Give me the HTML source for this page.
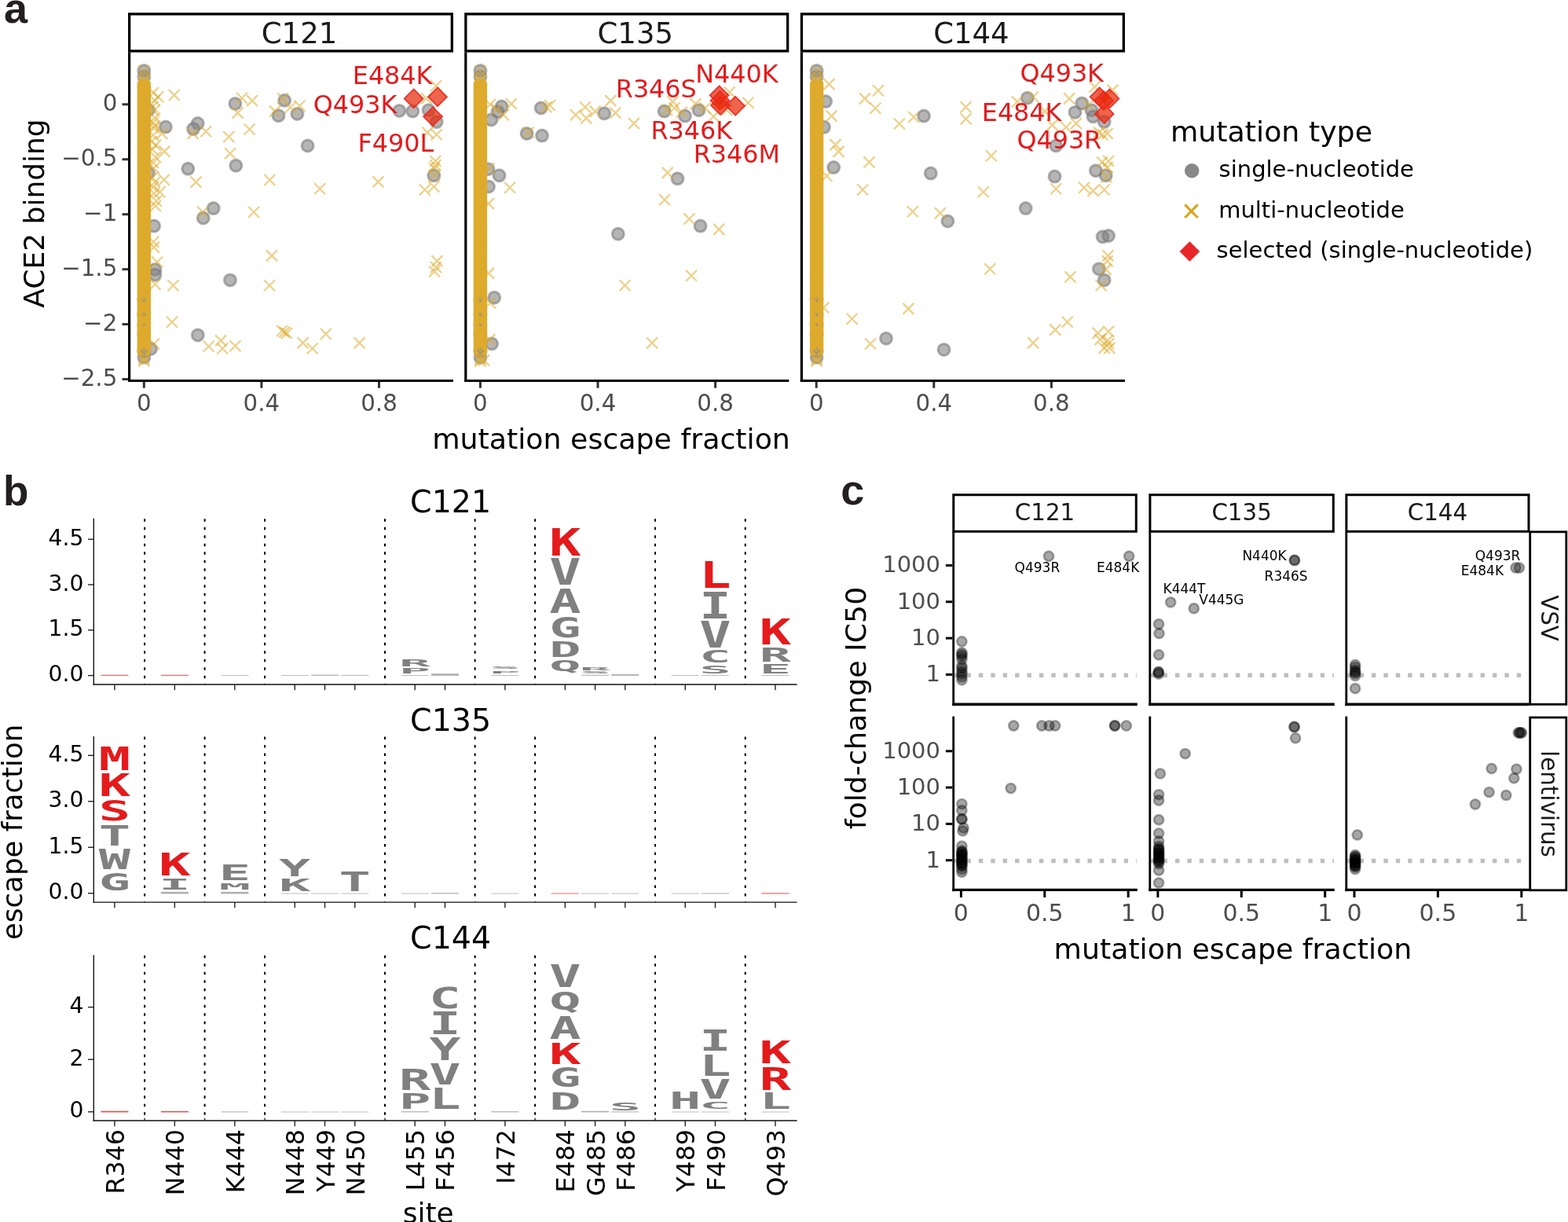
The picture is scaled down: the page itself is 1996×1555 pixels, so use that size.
<!DOCTYPE html>
<html><head><meta charset="utf-8"><title>figure</title>
<style>html,body{margin:0;padding:0;background:#fff;}svg{display:block;}</style></head>
<body><svg width="1996" height="1555" viewBox="0 0 1996 1555">
<rect width="1996" height="1555" fill="#fff"/>
<text x="5" y="28.7" font-size="54" fill="#231F20" text-anchor="start" font-family="'Liberation Sans', Arial, sans-serif" font-weight="bold">a</text>
<text x="4" y="643.4" font-size="53" fill="#231F20" text-anchor="start" font-family="'Liberation Sans', Arial, sans-serif" font-weight="bold">b</text>
<text x="1070.3" y="642.2" font-size="54" fill="#231F20" text-anchor="start" font-family="'Liberation Sans', Arial, sans-serif" font-weight="bold">c</text>
<rect x="164.65" y="17.85" width="410.7" height="47.1" fill="#fff" stroke="#000" stroke-width="3.3"/>
<line x1="164.6" y1="66.6" x2="164.6" y2="486" stroke="#000" stroke-width="3.2"/>
<line x1="163" y1="484.5" x2="577" y2="484.5" stroke="#000" stroke-width="3.2"/>
<line x1="183.3" y1="486" x2="183.3" y2="493.8" stroke="#333333" stroke-width="3"/>
<text x="183.3" y="522.9" font-size="29.3" fill="#4D4D4D" text-anchor="middle" font-family="'DejaVu Sans', 'Liberation Sans', sans-serif" font-weight="normal">0</text>
<line x1="332.9" y1="486" x2="332.9" y2="493.8" stroke="#333333" stroke-width="3"/>
<text x="332.9" y="522.9" font-size="29.3" fill="#4D4D4D" text-anchor="middle" font-family="'DejaVu Sans', 'Liberation Sans', sans-serif" font-weight="normal">0.4</text>
<line x1="482.5" y1="486" x2="482.5" y2="493.8" stroke="#333333" stroke-width="3"/>
<text x="482.5" y="522.9" font-size="29.3" fill="#4D4D4D" text-anchor="middle" font-family="'DejaVu Sans', 'Liberation Sans', sans-serif" font-weight="normal">0.8</text>
<text x="381" y="54.8" font-size="37" fill="#1A1A1A" text-anchor="middle" font-family="'DejaVu Sans', 'Liberation Sans', sans-serif" font-weight="normal">C121</text>
<rect x="592.85" y="17.85" width="409.8" height="47.1" fill="#fff" stroke="#000" stroke-width="3.3"/>
<line x1="592.8" y1="66.6" x2="592.8" y2="486" stroke="#000" stroke-width="3.2"/>
<line x1="591.2" y1="484.5" x2="1004.3" y2="484.5" stroke="#000" stroke-width="3.2"/>
<line x1="611.4" y1="486" x2="611.4" y2="493.8" stroke="#333333" stroke-width="3"/>
<text x="611.4" y="522.9" font-size="29.3" fill="#4D4D4D" text-anchor="middle" font-family="'DejaVu Sans', 'Liberation Sans', sans-serif" font-weight="normal">0</text>
<line x1="761" y1="486" x2="761" y2="493.8" stroke="#333333" stroke-width="3"/>
<text x="761" y="522.9" font-size="29.3" fill="#4D4D4D" text-anchor="middle" font-family="'DejaVu Sans', 'Liberation Sans', sans-serif" font-weight="normal">0.4</text>
<line x1="910.6" y1="486" x2="910.6" y2="493.8" stroke="#333333" stroke-width="3"/>
<text x="910.6" y="522.9" font-size="29.3" fill="#4D4D4D" text-anchor="middle" font-family="'DejaVu Sans', 'Liberation Sans', sans-serif" font-weight="normal">0.8</text>
<text x="808.75" y="54.8" font-size="37" fill="#1A1A1A" text-anchor="middle" font-family="'DejaVu Sans', 'Liberation Sans', sans-serif" font-weight="normal">C135</text>
<rect x="1020.45" y="17.85" width="409.9" height="47.1" fill="#fff" stroke="#000" stroke-width="3.3"/>
<line x1="1020.4" y1="66.6" x2="1020.4" y2="486" stroke="#000" stroke-width="3.2"/>
<line x1="1018.8" y1="484.5" x2="1432" y2="484.5" stroke="#000" stroke-width="3.2"/>
<line x1="1039.2" y1="486" x2="1039.2" y2="493.8" stroke="#333333" stroke-width="3"/>
<text x="1039.2" y="522.9" font-size="29.3" fill="#4D4D4D" text-anchor="middle" font-family="'DejaVu Sans', 'Liberation Sans', sans-serif" font-weight="normal">0</text>
<line x1="1188.8" y1="486" x2="1188.8" y2="493.8" stroke="#333333" stroke-width="3"/>
<text x="1188.8" y="522.9" font-size="29.3" fill="#4D4D4D" text-anchor="middle" font-family="'DejaVu Sans', 'Liberation Sans', sans-serif" font-weight="normal">0.4</text>
<line x1="1338.4" y1="486" x2="1338.4" y2="493.8" stroke="#333333" stroke-width="3"/>
<text x="1338.4" y="522.9" font-size="29.3" fill="#4D4D4D" text-anchor="middle" font-family="'DejaVu Sans', 'Liberation Sans', sans-serif" font-weight="normal">0.8</text>
<text x="1236.4" y="54.8" font-size="37" fill="#1A1A1A" text-anchor="middle" font-family="'DejaVu Sans', 'Liberation Sans', sans-serif" font-weight="normal">C144</text>
<line x1="155.5" y1="132.8" x2="163" y2="132.8" stroke="#333333" stroke-width="3"/>
<text x="149.3" y="141.4" font-size="29.3" fill="#4D4D4D" text-anchor="end" font-family="'DejaVu Sans', 'Liberation Sans', sans-serif" font-weight="normal">0</text>
<line x1="155.5" y1="202.75" x2="163" y2="202.75" stroke="#333333" stroke-width="3"/>
<text x="149.3" y="211.35" font-size="29.3" fill="#4D4D4D" text-anchor="end" font-family="'DejaVu Sans', 'Liberation Sans', sans-serif" font-weight="normal">−0.5</text>
<line x1="155.5" y1="272.7" x2="163" y2="272.7" stroke="#333333" stroke-width="3"/>
<text x="149.3" y="281.3" font-size="29.3" fill="#4D4D4D" text-anchor="end" font-family="'DejaVu Sans', 'Liberation Sans', sans-serif" font-weight="normal">−1</text>
<line x1="155.5" y1="342.65" x2="163" y2="342.65" stroke="#333333" stroke-width="3"/>
<text x="149.3" y="351.25" font-size="29.3" fill="#4D4D4D" text-anchor="end" font-family="'DejaVu Sans', 'Liberation Sans', sans-serif" font-weight="normal">−1.5</text>
<line x1="155.5" y1="412.6" x2="163" y2="412.6" stroke="#333333" stroke-width="3"/>
<text x="149.3" y="421.2" font-size="29.3" fill="#4D4D4D" text-anchor="end" font-family="'DejaVu Sans', 'Liberation Sans', sans-serif" font-weight="normal">−2</text>
<line x1="155.5" y1="482.55" x2="163" y2="482.55" stroke="#333333" stroke-width="3"/>
<text x="149.3" y="491.15" font-size="29.3" fill="#4D4D4D" text-anchor="end" font-family="'DejaVu Sans', 'Liberation Sans', sans-serif" font-weight="normal">−2.5</text>
<text x="56" y="391.7" font-size="36" fill="#000" text-anchor="start" font-family="'DejaVu Sans', 'Liberation Sans', sans-serif" font-weight="normal" transform="rotate(-90 56 391.7)">ACE2 binding</text>
<text x="550.2" y="571.2" font-size="36.3" fill="#000" text-anchor="start" font-family="'DejaVu Sans', 'Liberation Sans', sans-serif" font-weight="normal">mutation escape fraction</text>
<text x="1490" y="180" font-size="36.3" fill="#000" text-anchor="start" font-family="'DejaVu Sans', 'Liberation Sans', sans-serif" font-weight="normal">mutation type</text>
<circle cx="1517.2" cy="217.2" r="9.2" fill="#888888"/>
<path d="M1508.3 260.4 L1524.7 277 M1524.7 260.4 L1508.3 277" stroke="#DAA520" stroke-width="3.2" fill="none"/>
<polygon points="1514.4,307.2 1527.2,320 1514.4,332.8 1501.6,320" fill="#E8262A"/>
<text x="1551.6" y="225.2" font-size="29" fill="#000" text-anchor="start" font-family="'DejaVu Sans', 'Liberation Sans', sans-serif" font-weight="normal">single-nucleotide</text>
<text x="1551.2" y="277.4" font-size="29" fill="#000" text-anchor="start" font-family="'DejaVu Sans', 'Liberation Sans', sans-serif" font-weight="normal">multi-nucleotide</text>
<text x="1548.6" y="328.4" font-size="29" fill="#000" text-anchor="start" font-family="'DejaVu Sans', 'Liberation Sans', sans-serif" font-weight="normal">selected (single-nucleotide)</text>
<g fill="#808080" fill-opacity="0.58" stroke="#777777" stroke-opacity="0.55" stroke-width="3">
<circle cx="183.3" cy="90" r="7.5"/>
<circle cx="183.3" cy="97.7" r="7.5"/>
<circle cx="183.3" cy="380.8" r="7.5"/>
<circle cx="183.3" cy="400.1" r="7.5"/>
<circle cx="183.3" cy="413" r="7.5"/>
<circle cx="183.3" cy="425" r="7.5"/>
<circle cx="183.3" cy="447.1" r="7.5"/>
<circle cx="183.3" cy="454.8" r="7.5"/>
<circle cx="611.4" cy="90" r="7.5"/>
<circle cx="611.4" cy="97.7" r="7.5"/>
<circle cx="611.4" cy="380.8" r="7.5"/>
<circle cx="611.4" cy="400.1" r="7.5"/>
<circle cx="611.4" cy="413" r="7.5"/>
<circle cx="611.4" cy="425" r="7.5"/>
<circle cx="611.4" cy="447.1" r="7.5"/>
<circle cx="611.4" cy="454.8" r="7.5"/>
<circle cx="1039.6" cy="90" r="7.5"/>
<circle cx="1039.6" cy="97.7" r="7.5"/>
<circle cx="1039.6" cy="380.8" r="7.5"/>
<circle cx="1039.6" cy="400.1" r="7.5"/>
<circle cx="1039.6" cy="413" r="7.5"/>
<circle cx="1039.6" cy="425" r="7.5"/>
<circle cx="1039.6" cy="447.1" r="7.5"/>
<circle cx="1039.6" cy="454.8" r="7.5"/>
<circle cx="299.4" cy="131.9" r="7.5"/>
<circle cx="362.2" cy="127.8" r="7.5"/>
<circle cx="354.5" cy="147.2" r="7.5"/>
<circle cx="378.4" cy="145" r="7.5"/>
<circle cx="210.9" cy="161.6" r="7.5"/>
<circle cx="251.7" cy="157.1" r="7.5"/>
<circle cx="246" cy="164.1" r="7.5"/>
<circle cx="239.3" cy="214.8" r="7.5"/>
<circle cx="300.3" cy="210.7" r="7.5"/>
<circle cx="271.7" cy="265.1" r="7.5"/>
<circle cx="258.8" cy="277.5" r="7.5"/>
<circle cx="196.1" cy="287.6" r="7.5"/>
<circle cx="197.4" cy="342.9" r="7.5"/>
<circle cx="197.4" cy="349.7" r="7.5"/>
<circle cx="293" cy="356.4" r="7.5"/>
<circle cx="251.8" cy="426.4" r="7.5"/>
<circle cx="192" cy="444" r="7.5"/>
<circle cx="391.6" cy="185.5" r="7.5"/>
<circle cx="508.4" cy="140.9" r="7.5"/>
<circle cx="525.3" cy="141.6" r="7.5"/>
<circle cx="545.6" cy="140.2" r="7.5"/>
<circle cx="555.7" cy="155.1" r="7.5"/>
<circle cx="552.3" cy="223.3" r="7.5"/>
<circle cx="189" cy="140" r="7.5"/>
<circle cx="189" cy="220" r="7.5"/>
<circle cx="638.6" cy="135.5" r="7.5"/>
<circle cx="633.5" cy="142.2" r="7.5"/>
<circle cx="625.4" cy="152.4" r="7.5"/>
<circle cx="688.6" cy="137.5" r="7.5"/>
<circle cx="670.6" cy="169.9" r="7.5"/>
<circle cx="690" cy="172.6" r="7.5"/>
<circle cx="769.2" cy="144.3" r="7.5"/>
<circle cx="635.5" cy="223.3" r="7.5"/>
<circle cx="622" cy="237.5" r="7.5"/>
<circle cx="621.4" cy="215.2" r="7.5"/>
<circle cx="845.6" cy="141.6" r="7.5"/>
<circle cx="872" cy="147.6" r="7.5"/>
<circle cx="889.5" cy="140.2" r="7.5"/>
<circle cx="862.5" cy="227.3" r="7.5"/>
<circle cx="891.6" cy="287.6" r="7.5"/>
<circle cx="786.8" cy="297.7" r="7.5"/>
<circle cx="629.2" cy="378.7" r="7.5"/>
<circle cx="626.1" cy="437.5" r="7.5"/>
<circle cx="1051.1" cy="129.1" r="7.5"/>
<circle cx="1049" cy="161.8" r="7.5"/>
<circle cx="1061.2" cy="213.1" r="7.5"/>
<circle cx="1176" cy="147.6" r="7.5"/>
<circle cx="1184.8" cy="220.6" r="7.5"/>
<circle cx="1206.4" cy="281.5" r="7.5"/>
<circle cx="1307.8" cy="124.7" r="7.5"/>
<circle cx="1377.3" cy="131.4" r="7.5"/>
<circle cx="1368.5" cy="142.9" r="7.5"/>
<circle cx="1389.5" cy="140.2" r="7.5"/>
<circle cx="1391.5" cy="148.3" r="7.5"/>
<circle cx="1405.7" cy="155.1" r="7.5"/>
<circle cx="1344.2" cy="185.5" r="7.5"/>
<circle cx="1394.9" cy="217.2" r="7.5"/>
<circle cx="1407.7" cy="223.3" r="7.5"/>
<circle cx="1342.6" cy="224.6" r="7.5"/>
<circle cx="1305.7" cy="265.1" r="7.5"/>
<circle cx="1128" cy="430.7" r="7.5"/>
<circle cx="1201.6" cy="444.9" r="7.5"/>
<circle cx="1403.6" cy="301.3" r="7.5"/>
<circle cx="1411.1" cy="300" r="7.5"/>
<circle cx="1398.9" cy="342.2" r="7.5"/>
<circle cx="1405.7" cy="356.4" r="7.5"/>
</g>
<rect x="174.6" y="101.5" width="17.4" height="350.5" rx="5" fill="#DEAB2D"/>
<polygon points="183.3,376.3 187.8,380.8 183.3,385.3 178.8,380.8" fill="#8c8c8c" fill-opacity="0.75"/>
<polygon points="183.3,396.6 186.8,400.1 183.3,403.6 179.8,400.1" fill="#8c8c8c" fill-opacity="0.75"/>
<polygon points="183.3,442.1 188.3,447.1 183.3,452.1 178.3,447.1" fill="#8c8c8c" fill-opacity="0.75"/>
<polygon points="183.3,411 185.8,413.5 183.3,416 180.8,413.5" fill="#8c8c8c" fill-opacity="0.75"/>
<rect x="602.7" y="101.5" width="17.4" height="350.5" rx="5" fill="#DEAB2D"/>
<polygon points="611.4,376.3 615.9,380.8 611.4,385.3 606.9,380.8" fill="#8c8c8c" fill-opacity="0.75"/>
<polygon points="611.4,396.6 614.9,400.1 611.4,403.6 607.9,400.1" fill="#8c8c8c" fill-opacity="0.75"/>
<polygon points="611.4,442.1 616.4,447.1 611.4,452.1 606.4,447.1" fill="#8c8c8c" fill-opacity="0.75"/>
<polygon points="611.4,411 613.9,413.5 611.4,416 608.9,413.5" fill="#8c8c8c" fill-opacity="0.75"/>
<rect x="1030.9" y="101.5" width="17.4" height="350.5" rx="5" fill="#DEAB2D"/>
<polygon points="1039.6,376.3 1044.1,380.8 1039.6,385.3 1035.1,380.8" fill="#8c8c8c" fill-opacity="0.75"/>
<polygon points="1039.6,396.6 1043.1,400.1 1039.6,403.6 1036.1,400.1" fill="#8c8c8c" fill-opacity="0.75"/>
<polygon points="1039.6,442.1 1044.6,447.1 1039.6,452.1 1034.6,447.1" fill="#8c8c8c" fill-opacity="0.75"/>
<polygon points="1039.6,411 1042.1,413.5 1039.6,416 1037.1,413.5" fill="#8c8c8c" fill-opacity="0.75"/>
<g stroke="#DEAB2D" stroke-opacity="0.55" stroke-width="2.3" fill="none">
<path d="M176.3 83 l14 14 M190.3 83 l-14 14"/>
<path d="M176.3 90.7 l14 14 M190.3 90.7 l-14 14"/>
<path d="M176.3 95 l14 14 M190.3 95 l-14 14"/>
<path d="M176.3 98 l14 14 M190.3 98 l-14 14"/>
<path d="M176.3 101 l14 14 M190.3 101 l-14 14"/>
<path d="M176.3 104 l14 14 M190.3 104 l-14 14"/>
<path d="M176.3 107 l14 14 M190.3 107 l-14 14"/>
<path d="M176.3 110 l14 14 M190.3 110 l-14 14"/>
<path d="M176.3 113 l14 14 M190.3 113 l-14 14"/>
<path d="M176.3 116 l14 14 M190.3 116 l-14 14"/>
<path d="M176.3 119 l14 14 M190.3 119 l-14 14"/>
<path d="M176.3 122 l14 14 M190.3 122 l-14 14"/>
<path d="M176.3 125 l14 14 M190.3 125 l-14 14"/>
<path d="M176.3 128 l14 14 M190.3 128 l-14 14"/>
<path d="M176.3 131 l14 14 M190.3 131 l-14 14"/>
<path d="M176.3 134 l14 14 M190.3 134 l-14 14"/>
<path d="M176.3 137 l14 14 M190.3 137 l-14 14"/>
<path d="M176.3 140 l14 14 M190.3 140 l-14 14"/>
<path d="M176.3 143 l14 14 M190.3 143 l-14 14"/>
<path d="M176.3 146 l14 14 M190.3 146 l-14 14"/>
<path d="M176.3 149 l14 14 M190.3 149 l-14 14"/>
<path d="M176.3 152 l14 14 M190.3 152 l-14 14"/>
<path d="M176.3 155 l14 14 M190.3 155 l-14 14"/>
<path d="M176.3 158 l14 14 M190.3 158 l-14 14"/>
<path d="M176.3 161 l14 14 M190.3 161 l-14 14"/>
<path d="M176.3 164 l14 14 M190.3 164 l-14 14"/>
<path d="M176.3 167 l14 14 M190.3 167 l-14 14"/>
<path d="M176.3 170 l14 14 M190.3 170 l-14 14"/>
<path d="M176.3 173 l14 14 M190.3 173 l-14 14"/>
<path d="M176.3 176 l14 14 M190.3 176 l-14 14"/>
<path d="M176.3 179 l14 14 M190.3 179 l-14 14"/>
<path d="M176.3 182 l14 14 M190.3 182 l-14 14"/>
<path d="M176.3 185 l14 14 M190.3 185 l-14 14"/>
<path d="M176.3 188 l14 14 M190.3 188 l-14 14"/>
<path d="M176.3 191 l14 14 M190.3 191 l-14 14"/>
<path d="M176.3 194 l14 14 M190.3 194 l-14 14"/>
<path d="M176.3 197 l14 14 M190.3 197 l-14 14"/>
<path d="M176.3 200 l14 14 M190.3 200 l-14 14"/>
<path d="M176.3 203 l14 14 M190.3 203 l-14 14"/>
<path d="M176.3 206 l14 14 M190.3 206 l-14 14"/>
<path d="M176.3 209 l14 14 M190.3 209 l-14 14"/>
<path d="M176.3 212 l14 14 M190.3 212 l-14 14"/>
<path d="M176.3 215 l14 14 M190.3 215 l-14 14"/>
<path d="M176.3 218 l14 14 M190.3 218 l-14 14"/>
<path d="M176.3 221 l14 14 M190.3 221 l-14 14"/>
<path d="M176.3 224 l14 14 M190.3 224 l-14 14"/>
<path d="M176.3 227 l14 14 M190.3 227 l-14 14"/>
<path d="M176.3 230 l14 14 M190.3 230 l-14 14"/>
<path d="M176.3 233 l14 14 M190.3 233 l-14 14"/>
<path d="M176.3 236 l14 14 M190.3 236 l-14 14"/>
<path d="M176.3 239 l14 14 M190.3 239 l-14 14"/>
<path d="M176.3 242 l14 14 M190.3 242 l-14 14"/>
<path d="M176.3 245 l14 14 M190.3 245 l-14 14"/>
<path d="M176.3 248 l14 14 M190.3 248 l-14 14"/>
<path d="M176.3 251 l14 14 M190.3 251 l-14 14"/>
<path d="M176.3 254 l14 14 M190.3 254 l-14 14"/>
<path d="M176.3 257 l14 14 M190.3 257 l-14 14"/>
<path d="M176.3 260 l14 14 M190.3 260 l-14 14"/>
<path d="M176.3 263 l14 14 M190.3 263 l-14 14"/>
<path d="M176.3 266 l14 14 M190.3 266 l-14 14"/>
<path d="M176.3 269 l14 14 M190.3 269 l-14 14"/>
<path d="M176.3 272 l14 14 M190.3 272 l-14 14"/>
<path d="M176.3 275 l14 14 M190.3 275 l-14 14"/>
<path d="M176.3 278 l14 14 M190.3 278 l-14 14"/>
<path d="M176.3 281 l14 14 M190.3 281 l-14 14"/>
<path d="M176.3 284 l14 14 M190.3 284 l-14 14"/>
<path d="M176.3 287 l14 14 M190.3 287 l-14 14"/>
<path d="M176.3 290 l14 14 M190.3 290 l-14 14"/>
<path d="M176.3 293 l14 14 M190.3 293 l-14 14"/>
<path d="M176.3 296 l14 14 M190.3 296 l-14 14"/>
<path d="M176.3 299 l14 14 M190.3 299 l-14 14"/>
<path d="M176.3 302 l14 14 M190.3 302 l-14 14"/>
<path d="M176.3 305 l14 14 M190.3 305 l-14 14"/>
<path d="M176.3 308 l14 14 M190.3 308 l-14 14"/>
<path d="M176.3 311 l14 14 M190.3 311 l-14 14"/>
<path d="M176.3 314 l14 14 M190.3 314 l-14 14"/>
<path d="M176.3 317 l14 14 M190.3 317 l-14 14"/>
<path d="M176.3 320 l14 14 M190.3 320 l-14 14"/>
<path d="M176.3 323 l14 14 M190.3 323 l-14 14"/>
<path d="M176.3 326 l14 14 M190.3 326 l-14 14"/>
<path d="M176.3 329 l14 14 M190.3 329 l-14 14"/>
<path d="M176.3 332 l14 14 M190.3 332 l-14 14"/>
<path d="M176.3 335 l14 14 M190.3 335 l-14 14"/>
<path d="M176.3 338 l14 14 M190.3 338 l-14 14"/>
<path d="M176.3 341 l14 14 M190.3 341 l-14 14"/>
<path d="M176.3 344 l14 14 M190.3 344 l-14 14"/>
<path d="M176.3 347 l14 14 M190.3 347 l-14 14"/>
<path d="M176.3 350 l14 14 M190.3 350 l-14 14"/>
<path d="M176.3 353 l14 14 M190.3 353 l-14 14"/>
<path d="M176.3 356 l14 14 M190.3 356 l-14 14"/>
<path d="M176.3 359 l14 14 M190.3 359 l-14 14"/>
<path d="M176.3 362 l14 14 M190.3 362 l-14 14"/>
<path d="M176.3 365 l14 14 M190.3 365 l-14 14"/>
<path d="M176.3 368 l14 14 M190.3 368 l-14 14"/>
<path d="M176.3 371 l14 14 M190.3 371 l-14 14"/>
<path d="M176.3 373 l14 14 M190.3 373 l-14 14"/>
<path d="M176.3 379 l14 14 M190.3 379 l-14 14"/>
<path d="M176.3 385 l14 14 M190.3 385 l-14 14"/>
<path d="M176.3 391 l14 14 M190.3 391 l-14 14"/>
<path d="M176.3 397 l14 14 M190.3 397 l-14 14"/>
<path d="M176.3 403 l14 14 M190.3 403 l-14 14"/>
<path d="M176.3 409 l14 14 M190.3 409 l-14 14"/>
<path d="M176.3 415 l14 14 M190.3 415 l-14 14"/>
<path d="M176.3 421 l14 14 M190.3 421 l-14 14"/>
<path d="M176.3 427 l14 14 M190.3 427 l-14 14"/>
<path d="M176.3 433 l14 14 M190.3 433 l-14 14"/>
<path d="M176.3 439 l14 14 M190.3 439 l-14 14"/>
<path d="M176.3 447.5 l14 14 M190.3 447.5 l-14 14"/>
<path d="M176.3 450.5 l14 14 M190.3 450.5 l-14 14"/>
<path d="M176.3 452.5 l14 14 M190.3 452.5 l-14 14"/>
<path d="M604.4 83 l14 14 M618.4 83 l-14 14"/>
<path d="M604.4 90.7 l14 14 M618.4 90.7 l-14 14"/>
<path d="M604.4 95 l14 14 M618.4 95 l-14 14"/>
<path d="M604.4 98 l14 14 M618.4 98 l-14 14"/>
<path d="M604.4 101 l14 14 M618.4 101 l-14 14"/>
<path d="M604.4 104 l14 14 M618.4 104 l-14 14"/>
<path d="M604.4 107 l14 14 M618.4 107 l-14 14"/>
<path d="M604.4 110 l14 14 M618.4 110 l-14 14"/>
<path d="M604.4 113 l14 14 M618.4 113 l-14 14"/>
<path d="M604.4 116 l14 14 M618.4 116 l-14 14"/>
<path d="M604.4 119 l14 14 M618.4 119 l-14 14"/>
<path d="M604.4 122 l14 14 M618.4 122 l-14 14"/>
<path d="M604.4 125 l14 14 M618.4 125 l-14 14"/>
<path d="M604.4 128 l14 14 M618.4 128 l-14 14"/>
<path d="M604.4 131 l14 14 M618.4 131 l-14 14"/>
<path d="M604.4 134 l14 14 M618.4 134 l-14 14"/>
<path d="M604.4 137 l14 14 M618.4 137 l-14 14"/>
<path d="M604.4 140 l14 14 M618.4 140 l-14 14"/>
<path d="M604.4 143 l14 14 M618.4 143 l-14 14"/>
<path d="M604.4 146 l14 14 M618.4 146 l-14 14"/>
<path d="M604.4 149 l14 14 M618.4 149 l-14 14"/>
<path d="M604.4 152 l14 14 M618.4 152 l-14 14"/>
<path d="M604.4 155 l14 14 M618.4 155 l-14 14"/>
<path d="M604.4 158 l14 14 M618.4 158 l-14 14"/>
<path d="M604.4 161 l14 14 M618.4 161 l-14 14"/>
<path d="M604.4 164 l14 14 M618.4 164 l-14 14"/>
<path d="M604.4 167 l14 14 M618.4 167 l-14 14"/>
<path d="M604.4 170 l14 14 M618.4 170 l-14 14"/>
<path d="M604.4 173 l14 14 M618.4 173 l-14 14"/>
<path d="M604.4 176 l14 14 M618.4 176 l-14 14"/>
<path d="M604.4 179 l14 14 M618.4 179 l-14 14"/>
<path d="M604.4 182 l14 14 M618.4 182 l-14 14"/>
<path d="M604.4 185 l14 14 M618.4 185 l-14 14"/>
<path d="M604.4 188 l14 14 M618.4 188 l-14 14"/>
<path d="M604.4 191 l14 14 M618.4 191 l-14 14"/>
<path d="M604.4 194 l14 14 M618.4 194 l-14 14"/>
<path d="M604.4 197 l14 14 M618.4 197 l-14 14"/>
<path d="M604.4 200 l14 14 M618.4 200 l-14 14"/>
<path d="M604.4 203 l14 14 M618.4 203 l-14 14"/>
<path d="M604.4 206 l14 14 M618.4 206 l-14 14"/>
<path d="M604.4 209 l14 14 M618.4 209 l-14 14"/>
<path d="M604.4 212 l14 14 M618.4 212 l-14 14"/>
<path d="M604.4 215 l14 14 M618.4 215 l-14 14"/>
<path d="M604.4 218 l14 14 M618.4 218 l-14 14"/>
<path d="M604.4 221 l14 14 M618.4 221 l-14 14"/>
<path d="M604.4 224 l14 14 M618.4 224 l-14 14"/>
<path d="M604.4 227 l14 14 M618.4 227 l-14 14"/>
<path d="M604.4 230 l14 14 M618.4 230 l-14 14"/>
<path d="M604.4 233 l14 14 M618.4 233 l-14 14"/>
<path d="M604.4 236 l14 14 M618.4 236 l-14 14"/>
<path d="M604.4 239 l14 14 M618.4 239 l-14 14"/>
<path d="M604.4 242 l14 14 M618.4 242 l-14 14"/>
<path d="M604.4 245 l14 14 M618.4 245 l-14 14"/>
<path d="M604.4 248 l14 14 M618.4 248 l-14 14"/>
<path d="M604.4 251 l14 14 M618.4 251 l-14 14"/>
<path d="M604.4 254 l14 14 M618.4 254 l-14 14"/>
<path d="M604.4 257 l14 14 M618.4 257 l-14 14"/>
<path d="M604.4 260 l14 14 M618.4 260 l-14 14"/>
<path d="M604.4 263 l14 14 M618.4 263 l-14 14"/>
<path d="M604.4 266 l14 14 M618.4 266 l-14 14"/>
<path d="M604.4 269 l14 14 M618.4 269 l-14 14"/>
<path d="M604.4 272 l14 14 M618.4 272 l-14 14"/>
<path d="M604.4 275 l14 14 M618.4 275 l-14 14"/>
<path d="M604.4 278 l14 14 M618.4 278 l-14 14"/>
<path d="M604.4 281 l14 14 M618.4 281 l-14 14"/>
<path d="M604.4 284 l14 14 M618.4 284 l-14 14"/>
<path d="M604.4 287 l14 14 M618.4 287 l-14 14"/>
<path d="M604.4 290 l14 14 M618.4 290 l-14 14"/>
<path d="M604.4 293 l14 14 M618.4 293 l-14 14"/>
<path d="M604.4 296 l14 14 M618.4 296 l-14 14"/>
<path d="M604.4 299 l14 14 M618.4 299 l-14 14"/>
<path d="M604.4 302 l14 14 M618.4 302 l-14 14"/>
<path d="M604.4 305 l14 14 M618.4 305 l-14 14"/>
<path d="M604.4 308 l14 14 M618.4 308 l-14 14"/>
<path d="M604.4 311 l14 14 M618.4 311 l-14 14"/>
<path d="M604.4 314 l14 14 M618.4 314 l-14 14"/>
<path d="M604.4 317 l14 14 M618.4 317 l-14 14"/>
<path d="M604.4 320 l14 14 M618.4 320 l-14 14"/>
<path d="M604.4 323 l14 14 M618.4 323 l-14 14"/>
<path d="M604.4 326 l14 14 M618.4 326 l-14 14"/>
<path d="M604.4 329 l14 14 M618.4 329 l-14 14"/>
<path d="M604.4 332 l14 14 M618.4 332 l-14 14"/>
<path d="M604.4 335 l14 14 M618.4 335 l-14 14"/>
<path d="M604.4 338 l14 14 M618.4 338 l-14 14"/>
<path d="M604.4 341 l14 14 M618.4 341 l-14 14"/>
<path d="M604.4 344 l14 14 M618.4 344 l-14 14"/>
<path d="M604.4 347 l14 14 M618.4 347 l-14 14"/>
<path d="M604.4 350 l14 14 M618.4 350 l-14 14"/>
<path d="M604.4 353 l14 14 M618.4 353 l-14 14"/>
<path d="M604.4 356 l14 14 M618.4 356 l-14 14"/>
<path d="M604.4 359 l14 14 M618.4 359 l-14 14"/>
<path d="M604.4 362 l14 14 M618.4 362 l-14 14"/>
<path d="M604.4 365 l14 14 M618.4 365 l-14 14"/>
<path d="M604.4 368 l14 14 M618.4 368 l-14 14"/>
<path d="M604.4 371 l14 14 M618.4 371 l-14 14"/>
<path d="M604.4 373 l14 14 M618.4 373 l-14 14"/>
<path d="M604.4 379 l14 14 M618.4 379 l-14 14"/>
<path d="M604.4 385 l14 14 M618.4 385 l-14 14"/>
<path d="M604.4 391 l14 14 M618.4 391 l-14 14"/>
<path d="M604.4 397 l14 14 M618.4 397 l-14 14"/>
<path d="M604.4 403 l14 14 M618.4 403 l-14 14"/>
<path d="M604.4 409 l14 14 M618.4 409 l-14 14"/>
<path d="M604.4 415 l14 14 M618.4 415 l-14 14"/>
<path d="M604.4 421 l14 14 M618.4 421 l-14 14"/>
<path d="M604.4 427 l14 14 M618.4 427 l-14 14"/>
<path d="M604.4 433 l14 14 M618.4 433 l-14 14"/>
<path d="M604.4 439 l14 14 M618.4 439 l-14 14"/>
<path d="M604.4 447.5 l14 14 M618.4 447.5 l-14 14"/>
<path d="M604.4 450.5 l14 14 M618.4 450.5 l-14 14"/>
<path d="M604.4 452.5 l14 14 M618.4 452.5 l-14 14"/>
<path d="M1032.6 83 l14 14 M1046.6 83 l-14 14"/>
<path d="M1032.6 90.7 l14 14 M1046.6 90.7 l-14 14"/>
<path d="M1032.6 95 l14 14 M1046.6 95 l-14 14"/>
<path d="M1032.6 98 l14 14 M1046.6 98 l-14 14"/>
<path d="M1032.6 101 l14 14 M1046.6 101 l-14 14"/>
<path d="M1032.6 104 l14 14 M1046.6 104 l-14 14"/>
<path d="M1032.6 107 l14 14 M1046.6 107 l-14 14"/>
<path d="M1032.6 110 l14 14 M1046.6 110 l-14 14"/>
<path d="M1032.6 113 l14 14 M1046.6 113 l-14 14"/>
<path d="M1032.6 116 l14 14 M1046.6 116 l-14 14"/>
<path d="M1032.6 119 l14 14 M1046.6 119 l-14 14"/>
<path d="M1032.6 122 l14 14 M1046.6 122 l-14 14"/>
<path d="M1032.6 125 l14 14 M1046.6 125 l-14 14"/>
<path d="M1032.6 128 l14 14 M1046.6 128 l-14 14"/>
<path d="M1032.6 131 l14 14 M1046.6 131 l-14 14"/>
<path d="M1032.6 134 l14 14 M1046.6 134 l-14 14"/>
<path d="M1032.6 137 l14 14 M1046.6 137 l-14 14"/>
<path d="M1032.6 140 l14 14 M1046.6 140 l-14 14"/>
<path d="M1032.6 143 l14 14 M1046.6 143 l-14 14"/>
<path d="M1032.6 146 l14 14 M1046.6 146 l-14 14"/>
<path d="M1032.6 149 l14 14 M1046.6 149 l-14 14"/>
<path d="M1032.6 152 l14 14 M1046.6 152 l-14 14"/>
<path d="M1032.6 155 l14 14 M1046.6 155 l-14 14"/>
<path d="M1032.6 158 l14 14 M1046.6 158 l-14 14"/>
<path d="M1032.6 161 l14 14 M1046.6 161 l-14 14"/>
<path d="M1032.6 164 l14 14 M1046.6 164 l-14 14"/>
<path d="M1032.6 167 l14 14 M1046.6 167 l-14 14"/>
<path d="M1032.6 170 l14 14 M1046.6 170 l-14 14"/>
<path d="M1032.6 173 l14 14 M1046.6 173 l-14 14"/>
<path d="M1032.6 176 l14 14 M1046.6 176 l-14 14"/>
<path d="M1032.6 179 l14 14 M1046.6 179 l-14 14"/>
<path d="M1032.6 182 l14 14 M1046.6 182 l-14 14"/>
<path d="M1032.6 185 l14 14 M1046.6 185 l-14 14"/>
<path d="M1032.6 188 l14 14 M1046.6 188 l-14 14"/>
<path d="M1032.6 191 l14 14 M1046.6 191 l-14 14"/>
<path d="M1032.6 194 l14 14 M1046.6 194 l-14 14"/>
<path d="M1032.6 197 l14 14 M1046.6 197 l-14 14"/>
<path d="M1032.6 200 l14 14 M1046.6 200 l-14 14"/>
<path d="M1032.6 203 l14 14 M1046.6 203 l-14 14"/>
<path d="M1032.6 206 l14 14 M1046.6 206 l-14 14"/>
<path d="M1032.6 209 l14 14 M1046.6 209 l-14 14"/>
<path d="M1032.6 212 l14 14 M1046.6 212 l-14 14"/>
<path d="M1032.6 215 l14 14 M1046.6 215 l-14 14"/>
<path d="M1032.6 218 l14 14 M1046.6 218 l-14 14"/>
<path d="M1032.6 221 l14 14 M1046.6 221 l-14 14"/>
<path d="M1032.6 224 l14 14 M1046.6 224 l-14 14"/>
<path d="M1032.6 227 l14 14 M1046.6 227 l-14 14"/>
<path d="M1032.6 230 l14 14 M1046.6 230 l-14 14"/>
<path d="M1032.6 233 l14 14 M1046.6 233 l-14 14"/>
<path d="M1032.6 236 l14 14 M1046.6 236 l-14 14"/>
<path d="M1032.6 239 l14 14 M1046.6 239 l-14 14"/>
<path d="M1032.6 242 l14 14 M1046.6 242 l-14 14"/>
<path d="M1032.6 245 l14 14 M1046.6 245 l-14 14"/>
<path d="M1032.6 248 l14 14 M1046.6 248 l-14 14"/>
<path d="M1032.6 251 l14 14 M1046.6 251 l-14 14"/>
<path d="M1032.6 254 l14 14 M1046.6 254 l-14 14"/>
<path d="M1032.6 257 l14 14 M1046.6 257 l-14 14"/>
<path d="M1032.6 260 l14 14 M1046.6 260 l-14 14"/>
<path d="M1032.6 263 l14 14 M1046.6 263 l-14 14"/>
<path d="M1032.6 266 l14 14 M1046.6 266 l-14 14"/>
<path d="M1032.6 269 l14 14 M1046.6 269 l-14 14"/>
<path d="M1032.6 272 l14 14 M1046.6 272 l-14 14"/>
<path d="M1032.6 275 l14 14 M1046.6 275 l-14 14"/>
<path d="M1032.6 278 l14 14 M1046.6 278 l-14 14"/>
<path d="M1032.6 281 l14 14 M1046.6 281 l-14 14"/>
<path d="M1032.6 284 l14 14 M1046.6 284 l-14 14"/>
<path d="M1032.6 287 l14 14 M1046.6 287 l-14 14"/>
<path d="M1032.6 290 l14 14 M1046.6 290 l-14 14"/>
<path d="M1032.6 293 l14 14 M1046.6 293 l-14 14"/>
<path d="M1032.6 296 l14 14 M1046.6 296 l-14 14"/>
<path d="M1032.6 299 l14 14 M1046.6 299 l-14 14"/>
<path d="M1032.6 302 l14 14 M1046.6 302 l-14 14"/>
<path d="M1032.6 305 l14 14 M1046.6 305 l-14 14"/>
<path d="M1032.6 308 l14 14 M1046.6 308 l-14 14"/>
<path d="M1032.6 311 l14 14 M1046.6 311 l-14 14"/>
<path d="M1032.6 314 l14 14 M1046.6 314 l-14 14"/>
<path d="M1032.6 317 l14 14 M1046.6 317 l-14 14"/>
<path d="M1032.6 320 l14 14 M1046.6 320 l-14 14"/>
<path d="M1032.6 323 l14 14 M1046.6 323 l-14 14"/>
<path d="M1032.6 326 l14 14 M1046.6 326 l-14 14"/>
<path d="M1032.6 329 l14 14 M1046.6 329 l-14 14"/>
<path d="M1032.6 332 l14 14 M1046.6 332 l-14 14"/>
<path d="M1032.6 335 l14 14 M1046.6 335 l-14 14"/>
<path d="M1032.6 338 l14 14 M1046.6 338 l-14 14"/>
<path d="M1032.6 341 l14 14 M1046.6 341 l-14 14"/>
<path d="M1032.6 344 l14 14 M1046.6 344 l-14 14"/>
<path d="M1032.6 347 l14 14 M1046.6 347 l-14 14"/>
<path d="M1032.6 350 l14 14 M1046.6 350 l-14 14"/>
<path d="M1032.6 353 l14 14 M1046.6 353 l-14 14"/>
<path d="M1032.6 356 l14 14 M1046.6 356 l-14 14"/>
<path d="M1032.6 359 l14 14 M1046.6 359 l-14 14"/>
<path d="M1032.6 362 l14 14 M1046.6 362 l-14 14"/>
<path d="M1032.6 365 l14 14 M1046.6 365 l-14 14"/>
<path d="M1032.6 368 l14 14 M1046.6 368 l-14 14"/>
<path d="M1032.6 371 l14 14 M1046.6 371 l-14 14"/>
<path d="M1032.6 373 l14 14 M1046.6 373 l-14 14"/>
<path d="M1032.6 379 l14 14 M1046.6 379 l-14 14"/>
<path d="M1032.6 385 l14 14 M1046.6 385 l-14 14"/>
<path d="M1032.6 391 l14 14 M1046.6 391 l-14 14"/>
<path d="M1032.6 397 l14 14 M1046.6 397 l-14 14"/>
<path d="M1032.6 403 l14 14 M1046.6 403 l-14 14"/>
<path d="M1032.6 409 l14 14 M1046.6 409 l-14 14"/>
<path d="M1032.6 415 l14 14 M1046.6 415 l-14 14"/>
<path d="M1032.6 421 l14 14 M1046.6 421 l-14 14"/>
<path d="M1032.6 427 l14 14 M1046.6 427 l-14 14"/>
<path d="M1032.6 433 l14 14 M1046.6 433 l-14 14"/>
<path d="M1032.6 439 l14 14 M1046.6 439 l-14 14"/>
<path d="M1032.6 447.5 l14 14 M1046.6 447.5 l-14 14"/>
<path d="M1032.6 450.5 l14 14 M1046.6 450.5 l-14 14"/>
<path d="M1032.6 452.5 l14 14 M1046.6 452.5 l-14 14"/>
<path d="M194.2 116.3 l14 14 M208.2 116.3 l-14 14"/>
<path d="M214.7 114 l14 14 M228.7 114 l-14 14"/>
<path d="M300.9 117.7 l14 14 M314.9 117.7 l-14 14"/>
<path d="M314 121.1 l14 14 M328 121.1 l-14 14"/>
<path d="M353.1 118.4 l14 14 M367.1 118.4 l-14 14"/>
<path d="M295.5 136.6 l14 14 M309.5 136.6 l-14 14"/>
<path d="M343 134.6 l14 14 M357 134.6 l-14 14"/>
<path d="M362.6 129.8 l14 14 M376.6 129.8 l-14 14"/>
<path d="M255.2 160.2 l14 14 M269.2 160.2 l-14 14"/>
<path d="M238.6 162.9 l14 14 M252.6 162.9 l-14 14"/>
<path d="M199.2 162.9 l14 14 M213.2 162.9 l-14 14"/>
<path d="M284.3 167 l14 14 M298.3 167 l-14 14"/>
<path d="M310.6 157.5 l14 14 M324.6 157.5 l-14 14"/>
<path d="M202.3 185.6 l14 14 M216.3 185.6 l-14 14"/>
<path d="M286 188.3 l14 14 M300 188.3 l-14 14"/>
<path d="M191.1 177.8 l14 14 M205.1 177.8 l-14 14"/>
<path d="M242.4 224.6 l14 14 M256.4 224.6 l-14 14"/>
<path d="M336.3 222 l14 14 M350.3 222 l-14 14"/>
<path d="M201.9 221.7 l14 14 M215.9 221.7 l-14 14"/>
<path d="M196.5 237.2 l14 14 M210.5 237.2 l-14 14"/>
<path d="M316 263 l14 14 M330 263 l-14 14"/>
<path d="M251.2 262.9 l14 14 M265.2 262.9 l-14 14"/>
<path d="M374.5 127.8 l14 14 M388.5 127.8 l-14 14"/>
<path d="M548 102.2 l14 14 M562 102.2 l-14 14"/>
<path d="M535.9 118.4 l14 14 M549.9 118.4 l-14 14"/>
<path d="M537.2 161.6 l14 14 M551.2 161.6 l-14 14"/>
<path d="M548.7 164.3 l14 14 M562.7 164.3 l-14 14"/>
<path d="M547.3 198 l14 14 M561.3 198 l-14 14"/>
<path d="M547.3 203.4 l14 14 M561.3 203.4 l-14 14"/>
<path d="M546 207 l14 14 M560 207 l-14 14"/>
<path d="M546 216 l14 14 M560 216 l-14 14"/>
<path d="M545.3 230.5 l14 14 M559.3 230.5 l-14 14"/>
<path d="M533.8 234.5 l14 14 M547.8 234.5 l-14 14"/>
<path d="M474.4 224.4 l14 14 M488.4 224.4 l-14 14"/>
<path d="M400.1 233.2 l14 14 M414.1 233.2 l-14 14"/>
<path d="M339 318.4 l14 14 M353 318.4 l-14 14"/>
<path d="M336 356.2 l14 14 M350 356.2 l-14 14"/>
<path d="M213.4 356.2 l14 14 M227.4 356.2 l-14 14"/>
<path d="M212 402.8 l14 14 M226 402.8 l-14 14"/>
<path d="M193.1 326.5 l14 14 M207.1 326.5 l-14 14"/>
<path d="M189.1 430.5 l14 14 M203.1 430.5 l-14 14"/>
<path d="M258.6 433.8 l14 14 M272.6 433.8 l-14 14"/>
<path d="M274.1 426.4 l14 14 M288.1 426.4 l-14 14"/>
<path d="M276.2 436.5 l14 14 M290.2 436.5 l-14 14"/>
<path d="M292.4 433.2 l14 14 M306.4 433.2 l-14 14"/>
<path d="M355.2 415.6 l14 14 M369.2 415.6 l-14 14"/>
<path d="M358 417 l14 14 M372 417 l-14 14"/>
<path d="M352 414 l14 14 M366 414 l-14 14"/>
<path d="M188.4 300.8 l14 14 M202.4 300.8 l-14 14"/>
<path d="M189 307.6 l14 14 M203 307.6 l-14 14"/>
<path d="M190.4 354.8 l14 14 M204.4 354.8 l-14 14"/>
<path d="M549.4 325.1 l14 14 M563.4 325.1 l-14 14"/>
<path d="M548 333 l14 14 M562 333 l-14 14"/>
<path d="M546 338.5 l14 14 M560 338.5 l-14 14"/>
<path d="M378.5 429.4 l14 14 M392.5 429.4 l-14 14"/>
<path d="M390.7 436.5 l14 14 M404.7 436.5 l-14 14"/>
<path d="M407.8 418 l14 14 M421.8 418 l-14 14"/>
<path d="M450.5 429.4 l14 14 M464.5 429.4 l-14 14"/>
<path d="M190 143 l14 14 M204 143 l-14 14"/>
<path d="M190 153 l14 14 M204 153 l-14 14"/>
<path d="M191 193 l14 14 M205 193 l-14 14"/>
<path d="M192 249 l14 14 M206 249 l-14 14"/>
<path d="M191 255 l14 14 M205 255 l-14 14"/>
<path d="M190 121 l14 14 M204 121 l-14 14"/>
<path d="M188 111 l14 14 M202 111 l-14 14"/>
<path d="M187 129 l14 14 M201 129 l-14 14"/>
<path d="M189 134 l14 14 M203 134 l-14 14"/>
<path d="M188 149 l14 14 M202 149 l-14 14"/>
<path d="M189 156 l14 14 M203 156 l-14 14"/>
<path d="M188 165 l14 14 M202 165 l-14 14"/>
<path d="M188 200 l14 14 M202 200 l-14 14"/>
<path d="M189 207 l14 14 M203 207 l-14 14"/>
<path d="M187 219 l14 14 M201 219 l-14 14"/>
<path d="M190 225 l14 14 M204 225 l-14 14"/>
<path d="M188 231 l14 14 M202 231 l-14 14"/>
<path d="M189 239 l14 14 M203 239 l-14 14"/>
<path d="M186 173 l14 14 M200 173 l-14 14"/>
<path d="M187 183 l14 14 M201 183 l-14 14"/>
<path d="M643.8 125.1 l14 14 M657.8 125.1 l-14 14"/>
<path d="M633.9 139.3 l14 14 M647.9 139.3 l-14 14"/>
<path d="M625.2 131.9 l14 14 M639.2 131.9 l-14 14"/>
<path d="M617 125.8 l14 14 M631 125.8 l-14 14"/>
<path d="M688.6 129.2 l14 14 M702.6 129.2 l-14 14"/>
<path d="M693 127 l14 14 M707 127 l-14 14"/>
<path d="M665.7 161.6 l14 14 M679.7 161.6 l-14 14"/>
<path d="M725.8 139.3 l14 14 M739.8 139.3 l-14 14"/>
<path d="M737.9 129.2 l14 14 M751.9 129.2 l-14 14"/>
<path d="M739.3 143.4 l14 14 M753.3 143.4 l-14 14"/>
<path d="M750.7 134.6 l14 14 M764.7 134.6 l-14 14"/>
<path d="M770.3 121.1 l14 14 M784.3 121.1 l-14 14"/>
<path d="M776.4 136.6 l14 14 M790.4 136.6 l-14 14"/>
<path d="M799.9 150.1 l14 14 M813.9 150.1 l-14 14"/>
<path d="M842 133.2 l14 14 M856 133.2 l-14 14"/>
<path d="M849.4 122.4 l14 14 M863.4 122.4 l-14 14"/>
<path d="M851.5 130.5 l14 14 M865.5 130.5 l-14 14"/>
<path d="M860.9 135.9 l14 14 M874.9 135.9 l-14 14"/>
<path d="M878.5 125.1 l14 14 M892.5 125.1 l-14 14"/>
<path d="M890.6 130.5 l14 14 M904.6 130.5 l-14 14"/>
<path d="M901.4 141.3 l14 14 M915.4 141.3 l-14 14"/>
<path d="M945.3 123.8 l14 14 M959.3 123.8 l-14 14"/>
<path d="M921.7 110.3 l14 14 M935.7 110.3 l-14 14"/>
<path d="M918 133 l14 14 M932 133 l-14 14"/>
<path d="M842.7 212.9 l14 14 M856.7 212.9 l-14 14"/>
<path d="M839 247.3 l14 14 M853 247.3 l-14 14"/>
<path d="M870.4 271.5 l14 14 M884.4 271.5 l-14 14"/>
<path d="M908.2 284.9 l14 14 M922.2 284.9 l-14 14"/>
<path d="M873.1 343.8 l14 14 M887.1 343.8 l-14 14"/>
<path d="M823.1 429.4 l14 14 M837.1 429.4 l-14 14"/>
<path d="M788.6 356.2 l14 14 M802.6 356.2 l-14 14"/>
<path d="M617.1 378.5 l14 14 M631.1 378.5 l-14 14"/>
<path d="M615 340.6 l14 14 M629 340.6 l-14 14"/>
<path d="M616.4 425.1 l14 14 M630.4 425.1 l-14 14"/>
<path d="M609 451.4 l14 14 M623 451.4 l-14 14"/>
<path d="M615 252.1 l14 14 M629 252.1 l-14 14"/>
<path d="M615.7 207.5 l14 14 M629.7 207.5 l-14 14"/>
<path d="M642 231.8 l14 14 M656 231.8 l-14 14"/>
<path d="M1048.4 100.1 l14 14 M1062.4 100.1 l-14 14"/>
<path d="M1051.5 140.6 l14 14 M1065.5 140.6 l-14 14"/>
<path d="M1094 118.4 l14 14 M1108 118.4 l-14 14"/>
<path d="M1110.9 108.2 l14 14 M1124.9 108.2 l-14 14"/>
<path d="M1107.3 130.8 l14 14 M1121.3 130.8 l-14 14"/>
<path d="M1137.9 150.5 l14 14 M1151.9 150.5 l-14 14"/>
<path d="M1156.1 142 l14 14 M1170.1 142 l-14 14"/>
<path d="M1222.5 129.2 l14 14 M1236.5 129.2 l-14 14"/>
<path d="M1222.5 144.3 l14 14 M1236.5 144.3 l-14 14"/>
<path d="M1056.5 177.1 l14 14 M1070.5 177.1 l-14 14"/>
<path d="M1060.5 185.9 l14 14 M1074.5 185.9 l-14 14"/>
<path d="M1099.4 199.4 l14 14 M1113.4 199.4 l-14 14"/>
<path d="M1045.4 217 l14 14 M1059.4 217 l-14 14"/>
<path d="M1091.1 234.5 l14 14 M1105.1 234.5 l-14 14"/>
<path d="M1154.8 262.2 l14 14 M1168.8 262.2 l-14 14"/>
<path d="M1189.9 264.2 l14 14 M1203.9 264.2 l-14 14"/>
<path d="M1287.9 122.4 l14 14 M1301.9 122.4 l-14 14"/>
<path d="M1308.2 116.3 l14 14 M1322.2 116.3 l-14 14"/>
<path d="M1323 134.6 l14 14 M1337 134.6 l-14 14"/>
<path d="M1354.1 118.4 l14 14 M1368.1 118.4 l-14 14"/>
<path d="M1386.5 103.5 l14 14 M1400.5 103.5 l-14 14"/>
<path d="M1409.5 107.6 l14 14 M1423.5 107.6 l-14 14"/>
<path d="M1378.4 126.5 l14 14 M1392.4 126.5 l-14 14"/>
<path d="M1332.5 152.1 l14 14 M1346.5 152.1 l-14 14"/>
<path d="M1350 154.8 l14 14 M1364 154.8 l-14 14"/>
<path d="M1362.9 150.1 l14 14 M1376.9 150.1 l-14 14"/>
<path d="M1391.9 161.6 l14 14 M1405.9 161.6 l-14 14"/>
<path d="M1402.7 162.9 l14 14 M1416.7 162.9 l-14 14"/>
<path d="M1396.6 164.3 l14 14 M1410.6 164.3 l-14 14"/>
<path d="M1254.8 191.3 l14 14 M1268.8 191.3 l-14 14"/>
<path d="M1396 199.4 l14 14 M1410 199.4 l-14 14"/>
<path d="M1404.1 198 l14 14 M1418.1 198 l-14 14"/>
<path d="M1402.7 206.1 l14 14 M1416.7 206.1 l-14 14"/>
<path d="M1401.4 218.3 l14 14 M1415.4 218.3 l-14 14"/>
<path d="M1337.2 233.2 l14 14 M1351.2 233.2 l-14 14"/>
<path d="M1373 231.8 l14 14 M1387 231.8 l-14 14"/>
<path d="M1384.5 235.9 l14 14 M1398.5 235.9 l-14 14"/>
<path d="M1398.7 234.5 l14 14 M1412.7 234.5 l-14 14"/>
<path d="M1244.7 237.2 l14 14 M1258.7 237.2 l-14 14"/>
<path d="M1077.6 398.7 l14 14 M1091.6 398.7 l-14 14"/>
<path d="M1149.4 385.9 l14 14 M1163.4 385.9 l-14 14"/>
<path d="M1101 430.5 l14 14 M1115 430.5 l-14 14"/>
<path d="M1041.4 384.5 l14 14 M1055.4 384.5 l-14 14"/>
<path d="M1253.2 335.2 l14 14 M1267.2 335.2 l-14 14"/>
<path d="M1355.4 345.4 l14 14 M1369.4 345.4 l-14 14"/>
<path d="M1403.4 318.4 l14 14 M1417.4 318.4 l-14 14"/>
<path d="M1402.7 325.1 l14 14 M1416.7 325.1 l-14 14"/>
<path d="M1400.7 335.9 l14 14 M1414.7 335.9 l-14 14"/>
<path d="M1394.6 356.2 l14 14 M1408.6 356.2 l-14 14"/>
<path d="M1308.2 429.4 l14 14 M1322.2 429.4 l-14 14"/>
<path d="M1336.3 412.6 l14 14 M1350.3 412.6 l-14 14"/>
<path d="M1351.7 402.8 l14 14 M1365.7 402.8 l-14 14"/>
<path d="M1390.6 416.9 l14 14 M1404.6 416.9 l-14 14"/>
<path d="M1404.1 414.9 l14 14 M1418.1 414.9 l-14 14"/>
<path d="M1393.3 425.1 l14 14 M1407.3 425.1 l-14 14"/>
<path d="M1404.1 430.5 l14 14 M1418.1 430.5 l-14 14"/>
<path d="M1398.7 435.9 l14 14 M1412.7 435.9 l-14 14"/>
<path d="M1405.4 435.9 l14 14 M1419.4 435.9 l-14 14"/>
<path d="M1402.7 426.4 l14 14 M1416.7 426.4 l-14 14"/>
</g>
<g fill="#E82A08" fill-opacity="0.72" stroke="#EA2A22" stroke-opacity="0.9" stroke-width="1.9">
<polygon points="526.6,113.5 538.5,125.4 526.6,137.3 514.7,125.4"/>
<polygon points="557,111.4 568.9,123.3 557,135.2 545.1,123.3"/>
<polygon points="551,136.4 562.9,148.3 551,160.2 539.1,148.3"/>
<polygon points="915.6,109.4 927.5,121.3 915.6,133.2 903.7,121.3"/>
<polygon points="916.5,116.1 928.4,128 916.5,139.9 904.6,128"/>
<polygon points="917,122.1 928.9,134 917,145.9 905.1,134"/>
<polygon points="936.1,122.9 948,134.8 936.1,146.7 924.2,134.8"/>
<polygon points="1399.6,111.4 1411.5,123.3 1399.6,135.2 1387.7,123.3"/>
<polygon points="1405,116.1 1416.9,128 1405,139.9 1393.1,128"/>
<polygon points="1412.4,113.5 1424.3,125.4 1412.4,137.3 1400.5,125.4"/>
<polygon points="1405.7,133.1 1417.6,145 1405.7,156.9 1393.8,145"/>
</g>
<text x="448.8" y="106.6" font-size="31.8" fill="#E41A1C" text-anchor="start" font-family="'DejaVu Sans', 'Liberation Sans', sans-serif" font-weight="normal">E484K</text>
<text x="398.8" y="144" font-size="31.8" fill="#E41A1C" text-anchor="start" font-family="'DejaVu Sans', 'Liberation Sans', sans-serif" font-weight="normal">Q493K</text>
<text x="455.5" y="192.9" font-size="31.8" fill="#E41A1C" text-anchor="start" font-family="'DejaVu Sans', 'Liberation Sans', sans-serif" font-weight="normal">F490L</text>
<text x="783.8" y="124" font-size="31.8" fill="#E41A1C" text-anchor="start" font-family="'DejaVu Sans', 'Liberation Sans', sans-serif" font-weight="normal">R346S</text>
<text x="885.2" y="105.1" font-size="31.8" fill="#E41A1C" text-anchor="start" font-family="'DejaVu Sans', 'Liberation Sans', sans-serif" font-weight="normal">N440K</text>
<text x="828.5" y="177.4" font-size="31.8" fill="#E41A1C" text-anchor="start" font-family="'DejaVu Sans', 'Liberation Sans', sans-serif" font-weight="normal">R346K</text>
<text x="882.7" y="207.1" font-size="31.8" fill="#E41A1C" text-anchor="start" font-family="'DejaVu Sans', 'Liberation Sans', sans-serif" font-weight="normal">R346M</text>
<text x="1298.4" y="103.8" font-size="31.8" fill="#E41A1C" text-anchor="start" font-family="'DejaVu Sans', 'Liberation Sans', sans-serif" font-weight="normal">Q493K</text>
<text x="1249.8" y="153.7" font-size="31.8" fill="#E41A1C" text-anchor="start" font-family="'DejaVu Sans', 'Liberation Sans', sans-serif" font-weight="normal">E484K</text>
<text x="1294.4" y="188.8" font-size="31.8" fill="#E41A1C" text-anchor="start" font-family="'DejaVu Sans', 'Liberation Sans', sans-serif" font-weight="normal">Q493R</text>
<text x="522.1" y="651.8" font-size="39.5" fill="#000" text-anchor="start" font-family="'DejaVu Sans', 'Liberation Sans', sans-serif" font-weight="normal">C121</text>
<line x1="119.3" y1="659.8" x2="119.3" y2="871.65" stroke="#111" stroke-width="1.4"/>
<line x1="118.6" y1="871" x2="1014.6" y2="871" stroke="#111" stroke-width="1.45"/>
<line x1="112" y1="859.6" x2="119.3" y2="859.6" stroke="#222" stroke-width="1.4"/>
<text x="106.4" y="867.1" font-size="28.2" fill="#000" text-anchor="end" font-family="'DejaVu Sans', 'Liberation Sans', sans-serif" font-weight="normal">0.0</text>
<line x1="112" y1="801.81" x2="119.3" y2="801.81" stroke="#222" stroke-width="1.4"/>
<text x="106.4" y="809.31" font-size="28.2" fill="#000" text-anchor="end" font-family="'DejaVu Sans', 'Liberation Sans', sans-serif" font-weight="normal">1.5</text>
<line x1="112" y1="744.01" x2="119.3" y2="744.01" stroke="#222" stroke-width="1.4"/>
<text x="106.4" y="751.51" font-size="28.2" fill="#000" text-anchor="end" font-family="'DejaVu Sans', 'Liberation Sans', sans-serif" font-weight="normal">3.0</text>
<line x1="112" y1="686.22" x2="119.3" y2="686.22" stroke="#222" stroke-width="1.4"/>
<text x="106.4" y="693.72" font-size="28.2" fill="#000" text-anchor="end" font-family="'DejaVu Sans', 'Liberation Sans', sans-serif" font-weight="normal">4.5</text>
<line x1="184.13" y1="660.3" x2="184.13" y2="871" stroke="#000" stroke-width="2" stroke-dasharray="3.5 7"/>
<line x1="260.59" y1="660.3" x2="260.59" y2="871" stroke="#000" stroke-width="2" stroke-dasharray="3.5 7"/>
<line x1="337.05" y1="660.3" x2="337.05" y2="871" stroke="#000" stroke-width="2" stroke-dasharray="3.5 7"/>
<line x1="489.97" y1="660.3" x2="489.97" y2="871" stroke="#000" stroke-width="2" stroke-dasharray="3.5 7"/>
<line x1="604.66" y1="660.3" x2="604.66" y2="871" stroke="#000" stroke-width="2" stroke-dasharray="3.5 7"/>
<line x1="681.12" y1="660.3" x2="681.12" y2="871" stroke="#000" stroke-width="2" stroke-dasharray="3.5 7"/>
<line x1="834.04" y1="660.3" x2="834.04" y2="871" stroke="#000" stroke-width="2" stroke-dasharray="3.5 7"/>
<line x1="948.73" y1="660.3" x2="948.73" y2="871" stroke="#000" stroke-width="2" stroke-dasharray="3.5 7"/>
<line x1="145.9" y1="871" x2="145.9" y2="878.2" stroke="#222" stroke-width="1.4"/>
<line x1="222.36" y1="871" x2="222.36" y2="878.2" stroke="#222" stroke-width="1.4"/>
<line x1="298.82" y1="871" x2="298.82" y2="878.2" stroke="#222" stroke-width="1.4"/>
<line x1="375.28" y1="871" x2="375.28" y2="878.2" stroke="#222" stroke-width="1.4"/>
<line x1="413.51" y1="871" x2="413.51" y2="878.2" stroke="#222" stroke-width="1.4"/>
<line x1="451.74" y1="871" x2="451.74" y2="878.2" stroke="#222" stroke-width="1.4"/>
<line x1="528.2" y1="871" x2="528.2" y2="878.2" stroke="#222" stroke-width="1.4"/>
<line x1="566.43" y1="871" x2="566.43" y2="878.2" stroke="#222" stroke-width="1.4"/>
<line x1="642.89" y1="871" x2="642.89" y2="878.2" stroke="#222" stroke-width="1.4"/>
<line x1="719.35" y1="871" x2="719.35" y2="878.2" stroke="#222" stroke-width="1.4"/>
<line x1="757.58" y1="871" x2="757.58" y2="878.2" stroke="#222" stroke-width="1.4"/>
<line x1="795.81" y1="871" x2="795.81" y2="878.2" stroke="#222" stroke-width="1.4"/>
<line x1="872.27" y1="871" x2="872.27" y2="878.2" stroke="#222" stroke-width="1.4"/>
<line x1="910.5" y1="871" x2="910.5" y2="878.2" stroke="#222" stroke-width="1.4"/>
<line x1="986.96" y1="871" x2="986.96" y2="878.2" stroke="#222" stroke-width="1.4"/>
<text x="522.1" y="929.6" font-size="39.5" fill="#000" text-anchor="start" font-family="'DejaVu Sans', 'Liberation Sans', sans-serif" font-weight="normal">C135</text>
<line x1="119.3" y1="937.1" x2="119.3" y2="1148.75" stroke="#111" stroke-width="1.4"/>
<line x1="118.6" y1="1148.1" x2="1014.6" y2="1148.1" stroke="#111" stroke-width="1.45"/>
<line x1="112" y1="1136.7" x2="119.3" y2="1136.7" stroke="#222" stroke-width="1.4"/>
<text x="106.4" y="1144.2" font-size="28.2" fill="#000" text-anchor="end" font-family="'DejaVu Sans', 'Liberation Sans', sans-serif" font-weight="normal">0.0</text>
<line x1="112" y1="1078.23" x2="119.3" y2="1078.23" stroke="#222" stroke-width="1.4"/>
<text x="106.4" y="1085.73" font-size="28.2" fill="#000" text-anchor="end" font-family="'DejaVu Sans', 'Liberation Sans', sans-serif" font-weight="normal">1.5</text>
<line x1="112" y1="1019.76" x2="119.3" y2="1019.76" stroke="#222" stroke-width="1.4"/>
<text x="106.4" y="1027.26" font-size="28.2" fill="#000" text-anchor="end" font-family="'DejaVu Sans', 'Liberation Sans', sans-serif" font-weight="normal">3.0</text>
<line x1="112" y1="961.29" x2="119.3" y2="961.29" stroke="#222" stroke-width="1.4"/>
<text x="106.4" y="968.79" font-size="28.2" fill="#000" text-anchor="end" font-family="'DejaVu Sans', 'Liberation Sans', sans-serif" font-weight="normal">4.5</text>
<line x1="184.13" y1="937.6" x2="184.13" y2="1148.1" stroke="#000" stroke-width="2" stroke-dasharray="3.5 7"/>
<line x1="260.59" y1="937.6" x2="260.59" y2="1148.1" stroke="#000" stroke-width="2" stroke-dasharray="3.5 7"/>
<line x1="337.05" y1="937.6" x2="337.05" y2="1148.1" stroke="#000" stroke-width="2" stroke-dasharray="3.5 7"/>
<line x1="489.97" y1="937.6" x2="489.97" y2="1148.1" stroke="#000" stroke-width="2" stroke-dasharray="3.5 7"/>
<line x1="604.66" y1="937.6" x2="604.66" y2="1148.1" stroke="#000" stroke-width="2" stroke-dasharray="3.5 7"/>
<line x1="681.12" y1="937.6" x2="681.12" y2="1148.1" stroke="#000" stroke-width="2" stroke-dasharray="3.5 7"/>
<line x1="834.04" y1="937.6" x2="834.04" y2="1148.1" stroke="#000" stroke-width="2" stroke-dasharray="3.5 7"/>
<line x1="948.73" y1="937.6" x2="948.73" y2="1148.1" stroke="#000" stroke-width="2" stroke-dasharray="3.5 7"/>
<line x1="145.9" y1="1148.1" x2="145.9" y2="1155.3" stroke="#222" stroke-width="1.4"/>
<line x1="222.36" y1="1148.1" x2="222.36" y2="1155.3" stroke="#222" stroke-width="1.4"/>
<line x1="298.82" y1="1148.1" x2="298.82" y2="1155.3" stroke="#222" stroke-width="1.4"/>
<line x1="375.28" y1="1148.1" x2="375.28" y2="1155.3" stroke="#222" stroke-width="1.4"/>
<line x1="413.51" y1="1148.1" x2="413.51" y2="1155.3" stroke="#222" stroke-width="1.4"/>
<line x1="451.74" y1="1148.1" x2="451.74" y2="1155.3" stroke="#222" stroke-width="1.4"/>
<line x1="528.2" y1="1148.1" x2="528.2" y2="1155.3" stroke="#222" stroke-width="1.4"/>
<line x1="566.43" y1="1148.1" x2="566.43" y2="1155.3" stroke="#222" stroke-width="1.4"/>
<line x1="642.89" y1="1148.1" x2="642.89" y2="1155.3" stroke="#222" stroke-width="1.4"/>
<line x1="719.35" y1="1148.1" x2="719.35" y2="1155.3" stroke="#222" stroke-width="1.4"/>
<line x1="757.58" y1="1148.1" x2="757.58" y2="1155.3" stroke="#222" stroke-width="1.4"/>
<line x1="795.81" y1="1148.1" x2="795.81" y2="1155.3" stroke="#222" stroke-width="1.4"/>
<line x1="872.27" y1="1148.1" x2="872.27" y2="1155.3" stroke="#222" stroke-width="1.4"/>
<line x1="910.5" y1="1148.1" x2="910.5" y2="1155.3" stroke="#222" stroke-width="1.4"/>
<line x1="986.96" y1="1148.1" x2="986.96" y2="1155.3" stroke="#222" stroke-width="1.4"/>
<text x="522.1" y="1207.4" font-size="39.5" fill="#000" text-anchor="start" font-family="'DejaVu Sans', 'Liberation Sans', sans-serif" font-weight="normal">C144</text>
<line x1="119.3" y1="1215.3" x2="119.3" y2="1426.65" stroke="#111" stroke-width="1.4"/>
<line x1="118.6" y1="1426" x2="1014.6" y2="1426" stroke="#111" stroke-width="1.45"/>
<line x1="112" y1="1414.8" x2="119.3" y2="1414.8" stroke="#222" stroke-width="1.4"/>
<text x="106.4" y="1422.3" font-size="28.2" fill="#000" text-anchor="end" font-family="'DejaVu Sans', 'Liberation Sans', sans-serif" font-weight="normal">0</text>
<line x1="112" y1="1348.2" x2="119.3" y2="1348.2" stroke="#222" stroke-width="1.4"/>
<text x="106.4" y="1355.7" font-size="28.2" fill="#000" text-anchor="end" font-family="'DejaVu Sans', 'Liberation Sans', sans-serif" font-weight="normal">2</text>
<line x1="112" y1="1281.6" x2="119.3" y2="1281.6" stroke="#222" stroke-width="1.4"/>
<text x="106.4" y="1289.1" font-size="28.2" fill="#000" text-anchor="end" font-family="'DejaVu Sans', 'Liberation Sans', sans-serif" font-weight="normal">4</text>
<line x1="184.13" y1="1215.8" x2="184.13" y2="1426" stroke="#000" stroke-width="2" stroke-dasharray="3.5 7"/>
<line x1="260.59" y1="1215.8" x2="260.59" y2="1426" stroke="#000" stroke-width="2" stroke-dasharray="3.5 7"/>
<line x1="337.05" y1="1215.8" x2="337.05" y2="1426" stroke="#000" stroke-width="2" stroke-dasharray="3.5 7"/>
<line x1="489.97" y1="1215.8" x2="489.97" y2="1426" stroke="#000" stroke-width="2" stroke-dasharray="3.5 7"/>
<line x1="604.66" y1="1215.8" x2="604.66" y2="1426" stroke="#000" stroke-width="2" stroke-dasharray="3.5 7"/>
<line x1="681.12" y1="1215.8" x2="681.12" y2="1426" stroke="#000" stroke-width="2" stroke-dasharray="3.5 7"/>
<line x1="834.04" y1="1215.8" x2="834.04" y2="1426" stroke="#000" stroke-width="2" stroke-dasharray="3.5 7"/>
<line x1="948.73" y1="1215.8" x2="948.73" y2="1426" stroke="#000" stroke-width="2" stroke-dasharray="3.5 7"/>
<line x1="145.9" y1="1426" x2="145.9" y2="1433.2" stroke="#222" stroke-width="1.4"/>
<line x1="222.36" y1="1426" x2="222.36" y2="1433.2" stroke="#222" stroke-width="1.4"/>
<line x1="298.82" y1="1426" x2="298.82" y2="1433.2" stroke="#222" stroke-width="1.4"/>
<line x1="375.28" y1="1426" x2="375.28" y2="1433.2" stroke="#222" stroke-width="1.4"/>
<line x1="413.51" y1="1426" x2="413.51" y2="1433.2" stroke="#222" stroke-width="1.4"/>
<line x1="451.74" y1="1426" x2="451.74" y2="1433.2" stroke="#222" stroke-width="1.4"/>
<line x1="528.2" y1="1426" x2="528.2" y2="1433.2" stroke="#222" stroke-width="1.4"/>
<line x1="566.43" y1="1426" x2="566.43" y2="1433.2" stroke="#222" stroke-width="1.4"/>
<line x1="642.89" y1="1426" x2="642.89" y2="1433.2" stroke="#222" stroke-width="1.4"/>
<line x1="719.35" y1="1426" x2="719.35" y2="1433.2" stroke="#222" stroke-width="1.4"/>
<line x1="757.58" y1="1426" x2="757.58" y2="1433.2" stroke="#222" stroke-width="1.4"/>
<line x1="795.81" y1="1426" x2="795.81" y2="1433.2" stroke="#222" stroke-width="1.4"/>
<line x1="872.27" y1="1426" x2="872.27" y2="1433.2" stroke="#222" stroke-width="1.4"/>
<line x1="910.5" y1="1426" x2="910.5" y2="1433.2" stroke="#222" stroke-width="1.4"/>
<line x1="986.96" y1="1426" x2="986.96" y2="1433.2" stroke="#222" stroke-width="1.4"/>
<line x1="184.13" y1="1422.8" x2="184.13" y2="1426" stroke="#222" stroke-width="1.4"/>
<line x1="260.59" y1="1422.8" x2="260.59" y2="1426" stroke="#222" stroke-width="1.4"/>
<line x1="337.05" y1="1422.8" x2="337.05" y2="1426" stroke="#222" stroke-width="1.4"/>
<line x1="489.97" y1="1422.8" x2="489.97" y2="1426" stroke="#222" stroke-width="1.4"/>
<line x1="604.66" y1="1422.8" x2="604.66" y2="1426" stroke="#222" stroke-width="1.4"/>
<line x1="681.12" y1="1422.8" x2="681.12" y2="1426" stroke="#222" stroke-width="1.4"/>
<line x1="834.04" y1="1422.8" x2="834.04" y2="1426" stroke="#222" stroke-width="1.4"/>
<line x1="948.73" y1="1422.8" x2="948.73" y2="1426" stroke="#222" stroke-width="1.4"/>
<text x="157.9" y="1437" font-size="31.7" fill="#000" text-anchor="end" font-family="'DejaVu Sans', 'Liberation Sans', sans-serif" font-weight="normal" transform="rotate(-90 157.9 1437)">R346</text>
<text x="234.36" y="1437" font-size="31.7" fill="#000" text-anchor="end" font-family="'DejaVu Sans', 'Liberation Sans', sans-serif" font-weight="normal" transform="rotate(-90 234.36 1437)">N440</text>
<text x="310.82" y="1437" font-size="31.7" fill="#000" text-anchor="end" font-family="'DejaVu Sans', 'Liberation Sans', sans-serif" font-weight="normal" transform="rotate(-90 310.82 1437)">K444</text>
<text x="387.28" y="1437" font-size="31.7" fill="#000" text-anchor="end" font-family="'DejaVu Sans', 'Liberation Sans', sans-serif" font-weight="normal" transform="rotate(-90 387.28 1437)">N448</text>
<text x="425.51" y="1437" font-size="31.7" fill="#000" text-anchor="end" font-family="'DejaVu Sans', 'Liberation Sans', sans-serif" font-weight="normal" transform="rotate(-90 425.51 1437)">Y449</text>
<text x="463.74" y="1437" font-size="31.7" fill="#000" text-anchor="end" font-family="'DejaVu Sans', 'Liberation Sans', sans-serif" font-weight="normal" transform="rotate(-90 463.74 1437)">N450</text>
<text x="540.2" y="1437" font-size="31.7" fill="#000" text-anchor="end" font-family="'DejaVu Sans', 'Liberation Sans', sans-serif" font-weight="normal" transform="rotate(-90 540.2 1437)">L455</text>
<text x="578.43" y="1437" font-size="31.7" fill="#000" text-anchor="end" font-family="'DejaVu Sans', 'Liberation Sans', sans-serif" font-weight="normal" transform="rotate(-90 578.43 1437)">F456</text>
<text x="654.89" y="1437" font-size="31.7" fill="#000" text-anchor="end" font-family="'DejaVu Sans', 'Liberation Sans', sans-serif" font-weight="normal" transform="rotate(-90 654.89 1437)">I472</text>
<text x="731.35" y="1437" font-size="31.7" fill="#000" text-anchor="end" font-family="'DejaVu Sans', 'Liberation Sans', sans-serif" font-weight="normal" transform="rotate(-90 731.35 1437)">E484</text>
<text x="769.58" y="1437" font-size="31.7" fill="#000" text-anchor="end" font-family="'DejaVu Sans', 'Liberation Sans', sans-serif" font-weight="normal" transform="rotate(-90 769.58 1437)">G485</text>
<text x="807.81" y="1437" font-size="31.7" fill="#000" text-anchor="end" font-family="'DejaVu Sans', 'Liberation Sans', sans-serif" font-weight="normal" transform="rotate(-90 807.81 1437)">F486</text>
<text x="884.27" y="1437" font-size="31.7" fill="#000" text-anchor="end" font-family="'DejaVu Sans', 'Liberation Sans', sans-serif" font-weight="normal" transform="rotate(-90 884.27 1437)">Y489</text>
<text x="922.5" y="1437" font-size="31.7" fill="#000" text-anchor="end" font-family="'DejaVu Sans', 'Liberation Sans', sans-serif" font-weight="normal" transform="rotate(-90 922.5 1437)">F490</text>
<text x="998.96" y="1437" font-size="31.7" fill="#000" text-anchor="end" font-family="'DejaVu Sans', 'Liberation Sans', sans-serif" font-weight="normal" transform="rotate(-90 998.96 1437)">Q493</text>
<text x="545.2" y="1555.5" font-size="36" fill="#000" text-anchor="middle" font-family="'DejaVu Sans', 'Liberation Sans', sans-serif" font-weight="normal">site</text>
<text x="27.7" y="1195.9" font-size="35.6" fill="#000" text-anchor="start" font-family="'DejaVu Sans', 'Liberation Sans', sans-serif" font-weight="normal" transform="rotate(-90 27.7 1195.9)">escape fraction</text>
<text transform="translate(528.2 847.6) scale(0.67 0.1193)" font-size="100" font-family="'DejaVu Sans Mono', 'Liberation Mono', monospace" font-weight="bold" text-anchor="middle" fill="#808080">R</text>
<text transform="translate(528.2 856.9) scale(0.67 0.0933)" font-size="100" font-family="'DejaVu Sans Mono', 'Liberation Mono', monospace" font-weight="bold" text-anchor="middle" fill="#808080">P</text>
<text transform="translate(642.89 851.24) scale(0.67 0.0423)" font-size="100" font-family="'DejaVu Sans Mono', 'Liberation Mono', monospace" font-weight="bold" text-anchor="middle" fill="#808080">S</text>
<text transform="translate(642.89 856.6) scale(0.67 0.0398)" font-size="100" font-family="'DejaVu Sans Mono', 'Liberation Mono', monospace" font-weight="bold" text-anchor="middle" fill="#808080">P</text>
<text transform="translate(719.35 706.5) scale(0.67 0.4733)" font-size="100" font-family="'DejaVu Sans Mono', 'Liberation Mono', monospace" font-weight="bold" text-anchor="middle" fill="#E41A1C">K</text>
<text transform="translate(719.35 744.2) scale(0.67 0.4554)" font-size="100" font-family="'DejaVu Sans Mono', 'Liberation Mono', monospace" font-weight="bold" text-anchor="middle" fill="#808080">V</text>
<text transform="translate(719.35 779.9) scale(0.67 0.4239)" font-size="100" font-family="'DejaVu Sans Mono', 'Liberation Mono', monospace" font-weight="bold" text-anchor="middle" fill="#808080">A</text>
<text transform="translate(719.35 811.49) scale(0.67 0.3611)" font-size="100" font-family="'DejaVu Sans Mono', 'Liberation Mono', monospace" font-weight="bold" text-anchor="middle" fill="#808080">G</text>
<text transform="translate(719.35 836.4) scale(0.67 0.2689)" font-size="100" font-family="'DejaVu Sans Mono', 'Liberation Mono', monospace" font-weight="bold" text-anchor="middle" fill="#808080">D</text>
<text transform="translate(719.35 854.01) scale(0.67 0.1889)" font-size="100" font-family="'DejaVu Sans Mono', 'Liberation Mono', monospace" font-weight="bold" text-anchor="middle" fill="#808080">Q</text>
<text transform="translate(757.58 852.9) scale(0.67 0.0549)" font-size="100" font-family="'DejaVu Sans Mono', 'Liberation Mono', monospace" font-weight="bold" text-anchor="middle" fill="#808080">R</text>
<text transform="translate(757.58 857.16) scale(0.67 0.0291)" font-size="100" font-family="'DejaVu Sans Mono', 'Liberation Mono', monospace" font-weight="bold" text-anchor="middle" fill="#808080">S</text>
<text transform="translate(910.5 748.2) scale(0.67 0.4582)" font-size="100" font-family="'DejaVu Sans Mono', 'Liberation Mono', monospace" font-weight="bold" text-anchor="middle" fill="#E41A1C">L</text>
<text transform="translate(910.5 786.7) scale(0.67 0.4623)" font-size="100" font-family="'DejaVu Sans Mono', 'Liberation Mono', monospace" font-weight="bold" text-anchor="middle" fill="#808080">I</text>
<text transform="translate(910.5 823.8) scale(0.67 0.4540)" font-size="100" font-family="'DejaVu Sans Mono', 'Liberation Mono', monospace" font-weight="bold" text-anchor="middle" fill="#808080">V</text>
<text transform="translate(910.5 843.3) scale(0.67 0.2130)" font-size="100" font-family="'DejaVu Sans Mono', 'Liberation Mono', monospace" font-weight="bold" text-anchor="middle" fill="#808080">C</text>
<text transform="translate(910.5 857.01) scale(0.67 0.1376)" font-size="100" font-family="'DejaVu Sans Mono', 'Liberation Mono', monospace" font-weight="bold" text-anchor="middle" fill="#808080">S</text>
<text transform="translate(986.96 820.3) scale(0.67 0.4390)" font-size="100" font-family="'DejaVu Sans Mono', 'Liberation Mono', monospace" font-weight="bold" text-anchor="middle" fill="#E41A1C">K</text>
<text transform="translate(986.96 842.4) scale(0.67 0.2483)" font-size="100" font-family="'DejaVu Sans Mono', 'Liberation Mono', monospace" font-weight="bold" text-anchor="middle" fill="#808080">R</text>
<text transform="translate(986.96 856.9) scale(0.67 0.1536)" font-size="100" font-family="'DejaVu Sans Mono', 'Liberation Mono', monospace" font-weight="bold" text-anchor="middle" fill="#808080">E</text>
<text transform="translate(145.9 980) scale(0.67 0.4129)" font-size="100" font-family="'DejaVu Sans Mono', 'Liberation Mono', monospace" font-weight="bold" text-anchor="middle" fill="#E41A1C">M</text>
<text transform="translate(145.9 1013.1) scale(0.67 0.3964)" font-size="100" font-family="'DejaVu Sans Mono', 'Liberation Mono', monospace" font-weight="bold" text-anchor="middle" fill="#E41A1C">K</text>
<text transform="translate(145.9 1044.1) scale(0.67 0.3571)" font-size="100" font-family="'DejaVu Sans Mono', 'Liberation Mono', monospace" font-weight="bold" text-anchor="middle" fill="#E41A1C">S</text>
<text transform="translate(145.9 1075.6) scale(0.67 0.3635)" font-size="100" font-family="'DejaVu Sans Mono', 'Liberation Mono', monospace" font-weight="bold" text-anchor="middle" fill="#808080">T</text>
<text transform="translate(145.9 1105.6) scale(0.67 0.3471)" font-size="100" font-family="'DejaVu Sans Mono', 'Liberation Mono', monospace" font-weight="bold" text-anchor="middle" fill="#808080">W</text>
<text transform="translate(145.9 1133.47) scale(0.67 0.3095)" font-size="100" font-family="'DejaVu Sans Mono', 'Liberation Mono', monospace" font-weight="bold" text-anchor="middle" fill="#808080">G</text>
<text transform="translate(222.36 1114.1) scale(0.67 0.3841)" font-size="100" font-family="'DejaVu Sans Mono', 'Liberation Mono', monospace" font-weight="bold" text-anchor="middle" fill="#E41A1C">K</text>
<text transform="translate(222.36 1131.7) scale(0.67 0.1852)" font-size="100" font-family="'DejaVu Sans Mono', 'Liberation Mono', monospace" font-weight="bold" text-anchor="middle" fill="#808080">I</text>
<text transform="translate(298.82 1120.4) scale(0.67 0.2647)" font-size="100" font-family="'DejaVu Sans Mono', 'Liberation Mono', monospace" font-weight="bold" text-anchor="middle" fill="#808080">E</text>
<text transform="translate(298.82 1131.7) scale(0.67 0.1111)" font-size="100" font-family="'DejaVu Sans Mono', 'Liberation Mono', monospace" font-weight="bold" text-anchor="middle" fill="#808080">M</text>
<text transform="translate(375.28 1114.6) scale(0.67 0.3045)" font-size="100" font-family="'DejaVu Sans Mono', 'Liberation Mono', monospace" font-weight="bold" text-anchor="middle" fill="#808080">Y</text>
<text transform="translate(375.28 1133.9) scale(0.67 0.2154)" font-size="100" font-family="'DejaVu Sans Mono', 'Liberation Mono', monospace" font-weight="bold" text-anchor="middle" fill="#808080">K</text>
<text transform="translate(451.74 1133.9) scale(0.67 0.3333)" font-size="100" font-family="'DejaVu Sans Mono', 'Liberation Mono', monospace" font-weight="bold" text-anchor="middle" fill="#808080">T</text>
<text transform="translate(528.2 1411.3) scale(0.67 0.2716)" font-size="100" font-family="'DejaVu Sans Mono', 'Liberation Mono', monospace" font-weight="bold" text-anchor="middle" fill="#808080">P</text>
<text transform="translate(528.2 1386.5) scale(0.67 0.3772)" font-size="100" font-family="'DejaVu Sans Mono', 'Liberation Mono', monospace" font-weight="bold" text-anchor="middle" fill="#808080">R</text>
<text transform="translate(566.43 1411.3) scale(0.67 0.3663)" font-size="100" font-family="'DejaVu Sans Mono', 'Liberation Mono', monospace" font-weight="bold" text-anchor="middle" fill="#808080">L</text>
<text transform="translate(566.43 1380.4) scale(0.67 0.3772)" font-size="100" font-family="'DejaVu Sans Mono', 'Liberation Mono', monospace" font-weight="bold" text-anchor="middle" fill="#808080">V</text>
<text transform="translate(566.43 1348.8) scale(0.67 0.3896)" font-size="100" font-family="'DejaVu Sans Mono', 'Liberation Mono', monospace" font-weight="bold" text-anchor="middle" fill="#808080">Y</text>
<text transform="translate(566.43 1315.7) scale(0.67 0.3855)" font-size="100" font-family="'DejaVu Sans Mono', 'Liberation Mono', monospace" font-weight="bold" text-anchor="middle" fill="#808080">I</text>
<text transform="translate(566.43 1282.97) scale(0.67 0.3757)" font-size="100" font-family="'DejaVu Sans Mono', 'Liberation Mono', monospace" font-weight="bold" text-anchor="middle" fill="#808080">C</text>
<text transform="translate(719.35 1412.1) scale(0.67 0.3018)" font-size="100" font-family="'DejaVu Sans Mono', 'Liberation Mono', monospace" font-weight="bold" text-anchor="middle" fill="#808080">D</text>
<text transform="translate(719.35 1383.34) scale(0.67 0.3280)" font-size="100" font-family="'DejaVu Sans Mono', 'Liberation Mono', monospace" font-weight="bold" text-anchor="middle" fill="#808080">G</text>
<text transform="translate(719.35 1353.7) scale(0.67 0.3772)" font-size="100" font-family="'DejaVu Sans Mono', 'Liberation Mono', monospace" font-weight="bold" text-anchor="middle" fill="#E41A1C">K</text>
<text transform="translate(719.35 1322) scale(0.67 0.3964)" font-size="100" font-family="'DejaVu Sans Mono', 'Liberation Mono', monospace" font-weight="bold" text-anchor="middle" fill="#808080">A</text>
<text transform="translate(719.35 1284.57) scale(0.67 0.3231)" font-size="100" font-family="'DejaVu Sans Mono', 'Liberation Mono', monospace" font-weight="bold" text-anchor="middle" fill="#808080">Q</text>
<text transform="translate(719.35 1256.4) scale(0.67 0.3855)" font-size="100" font-family="'DejaVu Sans Mono', 'Liberation Mono', monospace" font-weight="bold" text-anchor="middle" fill="#808080">V</text>
<text transform="translate(795.81 1412.81) scale(0.67 0.1389)" font-size="100" font-family="'DejaVu Sans Mono', 'Liberation Mono', monospace" font-weight="bold" text-anchor="middle" fill="#808080">S</text>
<text transform="translate(872.27 1411.3) scale(0.67 0.3018)" font-size="100" font-family="'DejaVu Sans Mono', 'Liberation Mono', monospace" font-weight="bold" text-anchor="middle" fill="#808080">H</text>
<text transform="translate(910.5 1411.12) scale(0.67 0.1270)" font-size="100" font-family="'DejaVu Sans Mono', 'Liberation Mono', monospace" font-weight="bold" text-anchor="middle" fill="#808080">C</text>
<text transform="translate(910.5 1397.5) scale(0.67 0.3402)" font-size="100" font-family="'DejaVu Sans Mono', 'Liberation Mono', monospace" font-weight="bold" text-anchor="middle" fill="#808080">V</text>
<text transform="translate(910.5 1368.9) scale(0.67 0.3786)" font-size="100" font-family="'DejaVu Sans Mono', 'Liberation Mono', monospace" font-weight="bold" text-anchor="middle" fill="#808080">L</text>
<text transform="translate(910.5 1336.9) scale(0.67 0.3772)" font-size="100" font-family="'DejaVu Sans Mono', 'Liberation Mono', monospace" font-weight="bold" text-anchor="middle" fill="#808080">I</text>
<text transform="translate(986.96 1411.3) scale(0.67 0.2908)" font-size="100" font-family="'DejaVu Sans Mono', 'Liberation Mono', monospace" font-weight="bold" text-anchor="middle" fill="#808080">L</text>
<text transform="translate(986.96 1386.5) scale(0.67 0.3937)" font-size="100" font-family="'DejaVu Sans Mono', 'Liberation Mono', monospace" font-weight="bold" text-anchor="middle" fill="#E41A1C">R</text>
<text transform="translate(986.96 1352.9) scale(0.67 0.3896)" font-size="100" font-family="'DejaVu Sans Mono', 'Liberation Mono', monospace" font-weight="bold" text-anchor="middle" fill="#E41A1C">K</text>
<rect x="128.4" y="858.8" width="35" height="1" fill="#E41A1C" stroke="none" stroke-width="0" fill-opacity="0.8"/>
<rect x="204.86" y="858.8" width="35" height="1" fill="#E41A1C" stroke="none" stroke-width="0" fill-opacity="0.8"/>
<rect x="281.32" y="859" width="35" height="0.8" fill="#9a9a9a" stroke="none" stroke-width="0" fill-opacity="0.8"/>
<rect x="357.78" y="859" width="35" height="0.8" fill="#9a9a9a" stroke="none" stroke-width="0" fill-opacity="0.8"/>
<rect x="396.01" y="858.6" width="35" height="1.2" fill="#9a9a9a" stroke="none" stroke-width="0" fill-opacity="0.8"/>
<rect x="434.24" y="858.9" width="35" height="0.9" fill="#9a9a9a" stroke="none" stroke-width="0" fill-opacity="0.8"/>
<rect x="510.7" y="859" width="35" height="0.8" fill="#9a9a9a" stroke="none" stroke-width="0" fill-opacity="0.8"/>
<rect x="548.93" y="857.2" width="35" height="2.6" fill="#9a9a9a" stroke="none" stroke-width="0" fill-opacity="0.8"/>
<rect x="625.39" y="859" width="35" height="0.8" fill="#9a9a9a" stroke="none" stroke-width="0" fill-opacity="0.8"/>
<rect x="740.08" y="858.8" width="35" height="1" fill="#9a9a9a" stroke="none" stroke-width="0" fill-opacity="0.8"/>
<rect x="778.31" y="858" width="35" height="1.8" fill="#9a9a9a" stroke="none" stroke-width="0" fill-opacity="0.8"/>
<rect x="854.77" y="859" width="35" height="0.8" fill="#9a9a9a" stroke="none" stroke-width="0" fill-opacity="0.8"/>
<rect x="893" y="859" width="35" height="0.8" fill="#9a9a9a" stroke="none" stroke-width="0" fill-opacity="0.8"/>
<rect x="969.46" y="859" width="35" height="0.8" fill="#9a9a9a" stroke="none" stroke-width="0" fill-opacity="0.8"/>
<rect x="204.86" y="1134.9" width="35" height="2.5" fill="#9a9a9a" stroke="none" stroke-width="0" fill-opacity="0.8"/>
<rect x="281.32" y="1134.9" width="35" height="2.5" fill="#9a9a9a" stroke="none" stroke-width="0" fill-opacity="0.8"/>
<rect x="357.78" y="1136.6" width="35" height="0.8" fill="#9a9a9a" stroke="none" stroke-width="0" fill-opacity="0.8"/>
<rect x="396.01" y="1136.6" width="35" height="0.8" fill="#9a9a9a" stroke="none" stroke-width="0" fill-opacity="0.8"/>
<rect x="434.24" y="1136.6" width="35" height="0.8" fill="#9a9a9a" stroke="none" stroke-width="0" fill-opacity="0.8"/>
<rect x="510.7" y="1136.6" width="35" height="0.8" fill="#9a9a9a" stroke="none" stroke-width="0" fill-opacity="0.8"/>
<rect x="548.93" y="1136.2" width="35" height="1.2" fill="#9a9a9a" stroke="none" stroke-width="0" fill-opacity="0.8"/>
<rect x="625.39" y="1136.6" width="35" height="0.8" fill="#9a9a9a" stroke="none" stroke-width="0" fill-opacity="0.8"/>
<rect x="701.85" y="1136.6" width="35" height="0.8" fill="#E41A1C" stroke="none" stroke-width="0" fill-opacity="0.8"/>
<rect x="740.08" y="1136.6" width="35" height="0.8" fill="#9a9a9a" stroke="none" stroke-width="0" fill-opacity="0.8"/>
<rect x="778.31" y="1136.6" width="35" height="0.8" fill="#9a9a9a" stroke="none" stroke-width="0" fill-opacity="0.8"/>
<rect x="854.77" y="1136.6" width="35" height="0.8" fill="#9a9a9a" stroke="none" stroke-width="0" fill-opacity="0.8"/>
<rect x="893" y="1136.4" width="35" height="1" fill="#9a9a9a" stroke="none" stroke-width="0" fill-opacity="0.8"/>
<rect x="969.46" y="1136.4" width="35" height="1" fill="#E41A1C" stroke="none" stroke-width="0" fill-opacity="0.8"/>
<rect x="128.4" y="1413.8" width="35" height="1.6" fill="#E41A1C" stroke="none" stroke-width="0" fill-opacity="0.8"/>
<rect x="204.86" y="1414" width="35" height="1.4" fill="#E41A1C" stroke="none" stroke-width="0" fill-opacity="0.8"/>
<rect x="281.32" y="1414.4" width="35" height="1" fill="#9a9a9a" stroke="none" stroke-width="0" fill-opacity="0.8"/>
<rect x="357.78" y="1414.6" width="35" height="0.8" fill="#9a9a9a" stroke="none" stroke-width="0" fill-opacity="0.8"/>
<rect x="396.01" y="1414.6" width="35" height="0.8" fill="#9a9a9a" stroke="none" stroke-width="0" fill-opacity="0.8"/>
<rect x="434.24" y="1414.6" width="35" height="0.8" fill="#9a9a9a" stroke="none" stroke-width="0" fill-opacity="0.8"/>
<rect x="510.7" y="1414.2" width="35" height="1.2" fill="#9a9a9a" stroke="none" stroke-width="0" fill-opacity="0.8"/>
<rect x="625.39" y="1414.2" width="35" height="1.2" fill="#9a9a9a" stroke="none" stroke-width="0" fill-opacity="0.8"/>
<rect x="740.08" y="1413.8" width="35" height="1.6" fill="#9a9a9a" stroke="none" stroke-width="0" fill-opacity="0.8"/>
<rect x="778.31" y="1414.4" width="35" height="1" fill="#9a9a9a" stroke="none" stroke-width="0" fill-opacity="0.8"/>
<rect x="854.77" y="1414.6" width="35" height="0.8" fill="#9a9a9a" stroke="none" stroke-width="0" fill-opacity="0.8"/>
<rect x="893" y="1414.6" width="35" height="0.8" fill="#9a9a9a" stroke="none" stroke-width="0" fill-opacity="0.8"/>
<rect x="969.46" y="1414.6" width="35" height="0.8" fill="#9a9a9a" stroke="none" stroke-width="0" fill-opacity="0.8"/>
<rect x="1213.8" y="629.7" width="232.5" height="46.6" fill="#fff" stroke="#000" stroke-width="3"/>
<text x="1330.05" y="662.1" font-size="29.3" fill="#1A1A1A" text-anchor="middle" font-family="'DejaVu Sans', 'Liberation Sans', sans-serif" font-weight="normal">C121</text>
<rect x="1463.9" y="629.7" width="233.4" height="46.6" fill="#fff" stroke="#000" stroke-width="3"/>
<text x="1580.6" y="662.1" font-size="29.3" fill="#1A1A1A" text-anchor="middle" font-family="'DejaVu Sans', 'Liberation Sans', sans-serif" font-weight="normal">C135</text>
<rect x="1713.9" y="629.7" width="232.1" height="46.6" fill="#fff" stroke="#000" stroke-width="3"/>
<text x="1829.95" y="662.1" font-size="29.3" fill="#1A1A1A" text-anchor="middle" font-family="'DejaVu Sans', 'Liberation Sans', sans-serif" font-weight="normal">C144</text>
<rect x="1947.7" y="676.8" width="46.1" height="219.5" fill="#fff" stroke="#000" stroke-width="2.8"/>
<text x="1962" y="786.55" font-size="29.3" fill="#1A1A1A" text-anchor="middle" font-family="'DejaVu Sans', 'Liberation Sans', sans-serif" font-weight="normal" transform="rotate(90 1962 786.55)">VSV</text>
<rect x="1947.7" y="913" width="46.1" height="219.8" fill="#fff" stroke="#000" stroke-width="2.8"/>
<text x="1962" y="1022.9" font-size="29.3" fill="#1A1A1A" text-anchor="middle" font-family="'DejaVu Sans', 'Liberation Sans', sans-serif" font-weight="normal" transform="rotate(90 1962 1022.9)">lentivirus</text>
<line x1="1215.1" y1="859.2" x2="1446.8" y2="859.2" stroke="#BEBEBE" stroke-width="5.4" stroke-dasharray="5.4 10"/>
<line x1="1213.7" y1="677.1" x2="1213.7" y2="898.1" stroke="#000" stroke-width="2.8"/>
<line x1="1212.3" y1="896.3" x2="1447.8" y2="896.3" stroke="#000" stroke-width="3.4"/>
<line x1="1465.2" y1="859.2" x2="1697.8" y2="859.2" stroke="#BEBEBE" stroke-width="5.4" stroke-dasharray="5.4 10"/>
<line x1="1463.8" y1="677.1" x2="1463.8" y2="898.1" stroke="#000" stroke-width="2.8"/>
<line x1="1462.4" y1="896.3" x2="1698.8" y2="896.3" stroke="#000" stroke-width="3.4"/>
<line x1="1715.2" y1="859.2" x2="1938" y2="859.2" stroke="#BEBEBE" stroke-width="5.4" stroke-dasharray="5.4 10"/>
<line x1="1713.8" y1="677.1" x2="1713.8" y2="898.1" stroke="#000" stroke-width="2.8"/>
<line x1="1712.4" y1="896.3" x2="1946.5" y2="896.3" stroke="#000" stroke-width="3.4"/>
<line x1="1203.9" y1="858.4" x2="1212.3" y2="858.4" stroke="#000" stroke-width="3"/>
<text x="1197" y="867.2" font-size="29" fill="#4D4D4D" text-anchor="end" font-family="'DejaVu Sans', 'Liberation Sans', sans-serif" font-weight="normal">1</text>
<line x1="1203.9" y1="812.1" x2="1212.3" y2="812.1" stroke="#000" stroke-width="3"/>
<text x="1197" y="820.9" font-size="29" fill="#4D4D4D" text-anchor="end" font-family="'DejaVu Sans', 'Liberation Sans', sans-serif" font-weight="normal">10</text>
<line x1="1203.9" y1="765.8" x2="1212.3" y2="765.8" stroke="#000" stroke-width="3"/>
<text x="1197" y="774.6" font-size="29" fill="#4D4D4D" text-anchor="end" font-family="'DejaVu Sans', 'Liberation Sans', sans-serif" font-weight="normal">100</text>
<line x1="1203.9" y1="719.5" x2="1212.3" y2="719.5" stroke="#000" stroke-width="3"/>
<text x="1197" y="728.3" font-size="29" fill="#4D4D4D" text-anchor="end" font-family="'DejaVu Sans', 'Liberation Sans', sans-serif" font-weight="normal">1000</text>
<line x1="1215.1" y1="1095.5" x2="1446.8" y2="1095.5" stroke="#BEBEBE" stroke-width="5.4" stroke-dasharray="5.4 10"/>
<line x1="1213.7" y1="911.6" x2="1213.7" y2="1134.2" stroke="#000" stroke-width="2.8"/>
<line x1="1212.3" y1="1132.4" x2="1447.8" y2="1132.4" stroke="#000" stroke-width="3.4"/>
<line x1="1465.2" y1="1095.5" x2="1697.8" y2="1095.5" stroke="#BEBEBE" stroke-width="5.4" stroke-dasharray="5.4 10"/>
<line x1="1463.8" y1="911.6" x2="1463.8" y2="1134.2" stroke="#000" stroke-width="2.8"/>
<line x1="1462.4" y1="1132.4" x2="1698.8" y2="1132.4" stroke="#000" stroke-width="3.4"/>
<line x1="1715.2" y1="1095.5" x2="1938" y2="1095.5" stroke="#BEBEBE" stroke-width="5.4" stroke-dasharray="5.4 10"/>
<line x1="1713.8" y1="911.6" x2="1713.8" y2="1134.2" stroke="#000" stroke-width="2.8"/>
<line x1="1712.4" y1="1132.4" x2="1946.5" y2="1132.4" stroke="#000" stroke-width="3.4"/>
<line x1="1203.9" y1="1094.7" x2="1212.3" y2="1094.7" stroke="#000" stroke-width="3"/>
<text x="1197" y="1103.5" font-size="29" fill="#4D4D4D" text-anchor="end" font-family="'DejaVu Sans', 'Liberation Sans', sans-serif" font-weight="normal">1</text>
<line x1="1203.9" y1="1048.4" x2="1212.3" y2="1048.4" stroke="#000" stroke-width="3"/>
<text x="1197" y="1057.2" font-size="29" fill="#4D4D4D" text-anchor="end" font-family="'DejaVu Sans', 'Liberation Sans', sans-serif" font-weight="normal">10</text>
<line x1="1203.9" y1="1002.1" x2="1212.3" y2="1002.1" stroke="#000" stroke-width="3"/>
<text x="1197" y="1010.9" font-size="29" fill="#4D4D4D" text-anchor="end" font-family="'DejaVu Sans', 'Liberation Sans', sans-serif" font-weight="normal">100</text>
<line x1="1203.9" y1="955.8" x2="1212.3" y2="955.8" stroke="#000" stroke-width="3"/>
<text x="1197" y="964.6" font-size="29" fill="#4D4D4D" text-anchor="end" font-family="'DejaVu Sans', 'Liberation Sans', sans-serif" font-weight="normal">1000</text>
<line x1="1223.4" y1="1134" x2="1223.4" y2="1142" stroke="#000" stroke-width="3"/>
<text x="1223.4" y="1172.3" font-size="30" fill="#4D4D4D" text-anchor="middle" font-family="'DejaVu Sans', 'Liberation Sans', sans-serif" font-weight="normal">0</text>
<line x1="1329.8" y1="1134" x2="1329.8" y2="1142" stroke="#000" stroke-width="3"/>
<text x="1329.8" y="1172.3" font-size="30" fill="#4D4D4D" text-anchor="middle" font-family="'DejaVu Sans', 'Liberation Sans', sans-serif" font-weight="normal">0.5</text>
<line x1="1436.2" y1="1134" x2="1436.2" y2="1142" stroke="#000" stroke-width="3"/>
<text x="1436.2" y="1172.3" font-size="30" fill="#4D4D4D" text-anchor="middle" font-family="'DejaVu Sans', 'Liberation Sans', sans-serif" font-weight="normal">1</text>
<line x1="1473.9" y1="1134" x2="1473.9" y2="1142" stroke="#000" stroke-width="3"/>
<text x="1473.9" y="1172.3" font-size="30" fill="#4D4D4D" text-anchor="middle" font-family="'DejaVu Sans', 'Liberation Sans', sans-serif" font-weight="normal">0</text>
<line x1="1580.3" y1="1134" x2="1580.3" y2="1142" stroke="#000" stroke-width="3"/>
<text x="1580.3" y="1172.3" font-size="30" fill="#4D4D4D" text-anchor="middle" font-family="'DejaVu Sans', 'Liberation Sans', sans-serif" font-weight="normal">0.5</text>
<line x1="1686.7" y1="1134" x2="1686.7" y2="1142" stroke="#000" stroke-width="3"/>
<text x="1686.7" y="1172.3" font-size="30" fill="#4D4D4D" text-anchor="middle" font-family="'DejaVu Sans', 'Liberation Sans', sans-serif" font-weight="normal">1</text>
<line x1="1724" y1="1134" x2="1724" y2="1142" stroke="#000" stroke-width="3"/>
<text x="1724" y="1172.3" font-size="30" fill="#4D4D4D" text-anchor="middle" font-family="'DejaVu Sans', 'Liberation Sans', sans-serif" font-weight="normal">0</text>
<line x1="1830.4" y1="1134" x2="1830.4" y2="1142" stroke="#000" stroke-width="3"/>
<text x="1830.4" y="1172.3" font-size="30" fill="#4D4D4D" text-anchor="middle" font-family="'DejaVu Sans', 'Liberation Sans', sans-serif" font-weight="normal">0.5</text>
<line x1="1936.8" y1="1134" x2="1936.8" y2="1142" stroke="#000" stroke-width="3"/>
<text x="1936.8" y="1172.3" font-size="30" fill="#4D4D4D" text-anchor="middle" font-family="'DejaVu Sans', 'Liberation Sans', sans-serif" font-weight="normal">1</text>
<text x="1569.4" y="1219.6" font-size="36.3" fill="#000" text-anchor="middle" font-family="'DejaVu Sans', 'Liberation Sans', sans-serif" font-weight="normal">mutation escape fraction</text>
<text x="1102" y="901" font-size="36.3" fill="#000" text-anchor="middle" font-family="'DejaVu Sans', 'Liberation Sans', sans-serif" font-weight="normal" transform="rotate(-90 1102 901)">fold-change IC50</text>
<g fill="#000" fill-opacity="0.35" stroke="#000" stroke-opacity="0.3" stroke-width="2.5">
<circle cx="1335" cy="707.8" r="6.2"/>
<circle cx="1437.2" cy="707.8" r="6.2"/>
<circle cx="1224.4" cy="816.3" r="6.2"/>
<circle cx="1224.4" cy="830.5" r="6.2"/>
<circle cx="1224.4" cy="832.8" r="6.2"/>
<circle cx="1224.4" cy="835.1" r="6.2"/>
<circle cx="1224.4" cy="839" r="6.2"/>
<circle cx="1224.4" cy="847.5" r="6.2"/>
<circle cx="1224.4" cy="850.5" r="6.2"/>
<circle cx="1224.4" cy="854.4" r="6.2"/>
<circle cx="1224.4" cy="857.5" r="6.2"/>
<circle cx="1224.4" cy="861.3" r="6.2"/>
<circle cx="1224.4" cy="865.2" r="6.2"/>
<circle cx="1647.9" cy="712.9" r="6.2"/>
<circle cx="1647.9" cy="712.9" r="6.2"/>
<circle cx="1490.2" cy="766.4" r="6.2"/>
<circle cx="1519.8" cy="774.2" r="6.2"/>
<circle cx="1475.1" cy="794.2" r="6.2"/>
<circle cx="1475.5" cy="806.1" r="6.2"/>
<circle cx="1475.1" cy="833.3" r="6.2"/>
<circle cx="1474.8" cy="855.2" r="6.2"/>
<circle cx="1474.8" cy="855.2" r="6.2"/>
<circle cx="1474.8" cy="857.5" r="6.2"/>
<circle cx="1929.5" cy="722.5" r="6.2"/>
<circle cx="1934" cy="722.5" r="6.2"/>
<circle cx="1725.1" cy="846" r="6.2"/>
<circle cx="1725.1" cy="852.9" r="6.2"/>
<circle cx="1725.1" cy="856.8" r="6.2"/>
<circle cx="1725.1" cy="859.9" r="6.2"/>
<circle cx="1725.1" cy="876.1" r="6.2"/>
<circle cx="1725.1" cy="849" r="6.2"/>
<circle cx="1725.1" cy="855" r="6.2"/>
<circle cx="1290.3" cy="923.5" r="6.2"/>
<circle cx="1326.2" cy="923.5" r="6.2"/>
<circle cx="1335.5" cy="923.5" r="6.2"/>
<circle cx="1343.2" cy="923.5" r="6.2"/>
<circle cx="1419.1" cy="923.5" r="6.2"/>
<circle cx="1419.1" cy="923.5" r="6.2"/>
<circle cx="1433.8" cy="923.5" r="6.2"/>
<circle cx="1286.7" cy="1003.1" r="6.2"/>
<circle cx="1224.4" cy="1023.1" r="6.2"/>
<circle cx="1224.4" cy="1031.2" r="6.2"/>
<circle cx="1224.4" cy="1042.3" r="6.2"/>
<circle cx="1224.4" cy="1042.3" r="6.2"/>
<circle cx="1224.4" cy="1076.7" r="6.2"/>
<circle cx="1224.4" cy="1082.8" r="6.2"/>
<circle cx="1224.4" cy="1085.2" r="6.2"/>
<circle cx="1224.4" cy="1087.5" r="6.2"/>
<circle cx="1224.4" cy="1089.8" r="6.2"/>
<circle cx="1224.4" cy="1092.9" r="6.2"/>
<circle cx="1224.4" cy="1096" r="6.2"/>
<circle cx="1224.4" cy="1099.1" r="6.2"/>
<circle cx="1224.4" cy="1102.2" r="6.2"/>
<circle cx="1224.4" cy="1084" r="6.2"/>
<circle cx="1224.4" cy="1088" r="6.2"/>
<circle cx="1224.4" cy="1091" r="6.2"/>
<circle cx="1224.4" cy="1094" r="6.2"/>
<circle cx="1224.4" cy="1098" r="6.2"/>
<circle cx="1224.4" cy="1101" r="6.2"/>
<circle cx="1224.4" cy="1106" r="6.2"/>
<circle cx="1224.4" cy="1109.8" r="6.2"/>
<circle cx="1226.5" cy="1053.5" r="6.2"/>
<circle cx="1225.5" cy="1057.4" r="6.2"/>
<circle cx="1647.6" cy="925" r="6.2"/>
<circle cx="1647.6" cy="925" r="6.2"/>
<circle cx="1649.1" cy="939.3" r="6.2"/>
<circle cx="1508.7" cy="959.1" r="6.2"/>
<circle cx="1476.9" cy="984.4" r="6.2"/>
<circle cx="1475.1" cy="1011.1" r="6.2"/>
<circle cx="1475.1" cy="1018.5" r="6.2"/>
<circle cx="1475.1" cy="1043.2" r="6.2"/>
<circle cx="1475.1" cy="1060.5" r="6.2"/>
<circle cx="1475.1" cy="1070.5" r="6.2"/>
<circle cx="1475.1" cy="1077" r="6.2"/>
<circle cx="1475.1" cy="1080" r="6.2"/>
<circle cx="1475.1" cy="1083" r="6.2"/>
<circle cx="1475.1" cy="1086" r="6.2"/>
<circle cx="1475.1" cy="1089" r="6.2"/>
<circle cx="1475.1" cy="1092" r="6.2"/>
<circle cx="1475.1" cy="1095" r="6.2"/>
<circle cx="1475.1" cy="1099" r="6.2"/>
<circle cx="1475.1" cy="1081" r="6.2"/>
<circle cx="1475.1" cy="1085" r="6.2"/>
<circle cx="1475.1" cy="1088" r="6.2"/>
<circle cx="1475.1" cy="1091" r="6.2"/>
<circle cx="1475.1" cy="1094" r="6.2"/>
<circle cx="1475.1" cy="1097" r="6.2"/>
<circle cx="1475.1" cy="1107.5" r="6.2"/>
<circle cx="1475.1" cy="1123.4" r="6.2"/>
<circle cx="1932.8" cy="932.4" r="6.2"/>
<circle cx="1934.2" cy="932.4" r="6.2"/>
<circle cx="1935.6" cy="932.4" r="6.2"/>
<circle cx="1937" cy="932.4" r="6.2"/>
<circle cx="1898.7" cy="978" r="6.2"/>
<circle cx="1930.4" cy="978.7" r="6.2"/>
<circle cx="1927.3" cy="990.3" r="6.2"/>
<circle cx="1895.6" cy="1008.1" r="6.2"/>
<circle cx="1917.3" cy="1011.9" r="6.2"/>
<circle cx="1877.9" cy="1023.5" r="6.2"/>
<circle cx="1727.8" cy="1062.4" r="6.2"/>
<circle cx="1725.1" cy="1088" r="6.2"/>
<circle cx="1725.1" cy="1090" r="6.2"/>
<circle cx="1725.1" cy="1093" r="6.2"/>
<circle cx="1725.1" cy="1095" r="6.2"/>
<circle cx="1725.1" cy="1097" r="6.2"/>
<circle cx="1725.1" cy="1099" r="6.2"/>
<circle cx="1725.1" cy="1101" r="6.2"/>
<circle cx="1725.1" cy="1103" r="6.2"/>
<circle cx="1725.1" cy="1106" r="6.2"/>
<circle cx="1725.1" cy="1091" r="6.2"/>
<circle cx="1725.1" cy="1094" r="6.2"/>
<circle cx="1725.1" cy="1098" r="6.2"/>
<circle cx="1725.1" cy="1102" r="6.2"/>
</g>
<text x="1291.6" y="728.3" font-size="17" fill="#000" text-anchor="start" font-family="'DejaVu Sans', 'Liberation Sans', sans-serif" font-weight="normal">Q493R</text>
<text x="1396" y="728.3" font-size="17" fill="#000" text-anchor="start" font-family="'DejaVu Sans', 'Liberation Sans', sans-serif" font-weight="normal">E484K</text>
<text x="1581.4" y="712.9" font-size="17" fill="#000" text-anchor="start" font-family="'DejaVu Sans', 'Liberation Sans', sans-serif" font-weight="normal">N440K</text>
<text x="1609.6" y="738.7" font-size="17" fill="#000" text-anchor="start" font-family="'DejaVu Sans', 'Liberation Sans', sans-serif" font-weight="normal">R346S</text>
<text x="1480.5" y="755.3" font-size="17" fill="#000" text-anchor="start" font-family="'DejaVu Sans', 'Liberation Sans', sans-serif" font-weight="normal">K444T</text>
<text x="1526.3" y="768.8" font-size="17" fill="#000" text-anchor="start" font-family="'DejaVu Sans', 'Liberation Sans', sans-serif" font-weight="normal">V445G</text>
<text x="1877.7" y="712.9" font-size="17" fill="#000" text-anchor="start" font-family="'DejaVu Sans', 'Liberation Sans', sans-serif" font-weight="normal">Q493R</text>
<text x="1859.7" y="731.7" font-size="17" fill="#000" text-anchor="start" font-family="'DejaVu Sans', 'Liberation Sans', sans-serif" font-weight="normal">E484K</text>
</svg></body></html>
